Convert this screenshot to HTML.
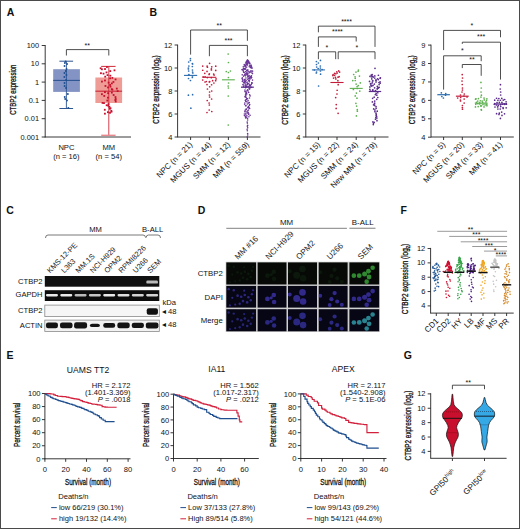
<!DOCTYPE html>
<html><head><meta charset="utf-8"><title>Figure</title>
<style>
html,body{margin:0;padding:0;background:#fff;}
body{width:520px;height:529px;overflow:hidden;}
svg{display:block;}
svg text{font-family:"Liberation Sans", sans-serif;}
svg text.h{stroke:#111;stroke-width:0.3px;}
</style></head><body>
<svg width="520" height="529" viewBox="0 0 520 529">
<defs><filter id="bl" x="-50%" y="-50%" width="200%" height="200%"><feGaussianBlur stdDeviation="0.45"/></filter></defs>
<rect x="0" y="0" width="520" height="529" fill="#fff"/>
<text x="6.80" y="16.00" font-size="10.5" text-anchor="start" fill="#111" font-weight="bold" >A</text>
<line x1="45.20" y1="45.00" x2="45.20" y2="137.40" stroke="#222" stroke-width="0.9" />
<line x1="44.80" y1="137.00" x2="131.00" y2="137.00" stroke="#222" stroke-width="0.9" />
<line x1="41.70" y1="45.50" x2="45.20" y2="45.50" stroke="#222" stroke-width="0.9" />
<text x="39.00" y="48.00" font-size="7.4" text-anchor="end" fill="#111" font-weight="normal" >100</text>
<line x1="41.70" y1="63.80" x2="45.20" y2="63.80" stroke="#222" stroke-width="0.9" />
<text x="39.00" y="66.30" font-size="7.4" text-anchor="end" fill="#111" font-weight="normal" >10</text>
<line x1="41.70" y1="82.10" x2="45.20" y2="82.10" stroke="#222" stroke-width="0.9" />
<text x="39.00" y="84.60" font-size="7.4" text-anchor="end" fill="#111" font-weight="normal" >1</text>
<line x1="41.70" y1="100.40" x2="45.20" y2="100.40" stroke="#222" stroke-width="0.9" />
<text x="39.00" y="102.90" font-size="7.4" text-anchor="end" fill="#111" font-weight="normal" >0.1</text>
<line x1="41.70" y1="118.70" x2="45.20" y2="118.70" stroke="#222" stroke-width="0.9" />
<text x="39.00" y="121.20" font-size="7.4" text-anchor="end" fill="#111" font-weight="normal" >0.01</text>
<line x1="41.70" y1="137.00" x2="45.20" y2="137.00" stroke="#222" stroke-width="0.9" />
<text x="39.00" y="139.50" font-size="7.4" text-anchor="end" fill="#111" font-weight="normal" >0.001</text>
<text class="h" transform="translate(15.50,89.70) rotate(-90) scale(0.6717,1)" font-size="9.0" text-anchor="middle" fill="#111">CTBP2 expression</text>
<rect x="53.20" y="69.20" width="26.70" height="22.70" fill="#8393c3" />
<line x1="66.40" y1="61.20" x2="66.40" y2="108.50" stroke="#2c5592" stroke-width="0.9" />
<line x1="59.40" y1="61.20" x2="73.10" y2="61.20" stroke="#2c5592" stroke-width="1.0" />
<line x1="59.40" y1="108.50" x2="73.10" y2="108.50" stroke="#2c5592" stroke-width="1.0" />
<line x1="53.20" y1="80.40" x2="79.90" y2="80.40" stroke="#2c5592" stroke-width="1.1" />
<circle cx="65.62" cy="61.50" r="0.95" fill="#1d4f8f"/>
<circle cx="64.86" cy="63.00" r="0.95" fill="#1d4f8f"/>
<circle cx="67.06" cy="64.00" r="0.95" fill="#1d4f8f"/>
<circle cx="64.52" cy="66.00" r="0.95" fill="#1d4f8f"/>
<circle cx="66.56" cy="69.00" r="0.95" fill="#1d4f8f"/>
<circle cx="65.81" cy="71.00" r="0.95" fill="#1d4f8f"/>
<circle cx="64.46" cy="73.00" r="0.95" fill="#1d4f8f"/>
<circle cx="66.43" cy="75.00" r="0.95" fill="#1d4f8f"/>
<circle cx="64.36" cy="77.00" r="0.95" fill="#1d4f8f"/>
<circle cx="66.11" cy="80.00" r="0.95" fill="#1d4f8f"/>
<circle cx="64.51" cy="83.00" r="0.95" fill="#1d4f8f"/>
<circle cx="64.60" cy="86.00" r="0.95" fill="#1d4f8f"/>
<circle cx="66.07" cy="88.00" r="0.95" fill="#1d4f8f"/>
<circle cx="67.84" cy="94.00" r="0.95" fill="#1d4f8f"/>
<circle cx="64.74" cy="97.00" r="0.95" fill="#1d4f8f"/>
<circle cx="65.18" cy="99.00" r="0.95" fill="#1d4f8f"/>
<circle cx="66.96" cy="100.50" r="0.95" fill="#1d4f8f"/>
<circle cx="68.37" cy="108.00" r="0.95" fill="#1d4f8f"/>
<rect x="95.40" y="77.50" width="26.70" height="25.50" fill="#ef9c96" />
<line x1="108.80" y1="66.40" x2="108.80" y2="135.50" stroke="#cf2a3a" stroke-width="0.9" />
<line x1="101.20" y1="66.40" x2="115.60" y2="66.40" stroke="#cf2a3a" stroke-width="1.0" />
<line x1="101.20" y1="135.30" x2="115.60" y2="135.30" stroke="#e78a8f" stroke-width="1.4" />
<line x1="95.40" y1="91.20" x2="122.10" y2="91.20" stroke="#c9283a" stroke-width="1.1" />
<rect x="106.04" y="66.11" width="1.8" height="1.8" fill="#c8102e"/>
<rect x="99.74" y="67.36" width="1.8" height="1.8" fill="#c8102e"/>
<rect x="104.11" y="68.14" width="1.8" height="1.8" fill="#c8102e"/>
<rect x="101.02" y="68.39" width="1.8" height="1.8" fill="#c8102e"/>
<rect x="113.59" y="69.43" width="1.8" height="1.8" fill="#c8102e"/>
<rect x="109.37" y="70.21" width="1.8" height="1.8" fill="#c8102e"/>
<rect x="105.60" y="71.50" width="1.8" height="1.8" fill="#c8102e"/>
<rect x="100.03" y="72.31" width="1.8" height="1.8" fill="#c8102e"/>
<rect x="102.61" y="72.76" width="1.8" height="1.8" fill="#c8102e"/>
<rect x="106.60" y="74.20" width="1.8" height="1.8" fill="#c8102e"/>
<rect x="109.44" y="74.77" width="1.8" height="1.8" fill="#c8102e"/>
<rect x="104.30" y="75.78" width="1.8" height="1.8" fill="#c8102e"/>
<rect x="111.48" y="76.97" width="1.8" height="1.8" fill="#c8102e"/>
<rect x="109.24" y="77.37" width="1.8" height="1.8" fill="#c8102e"/>
<rect x="114.65" y="78.51" width="1.8" height="1.8" fill="#c8102e"/>
<rect x="104.08" y="79.58" width="1.8" height="1.8" fill="#c8102e"/>
<rect x="101.03" y="80.69" width="1.8" height="1.8" fill="#c8102e"/>
<rect x="112.53" y="81.08" width="1.8" height="1.8" fill="#c8102e"/>
<rect x="107.70" y="81.74" width="1.8" height="1.8" fill="#c8102e"/>
<rect x="110.93" y="82.52" width="1.8" height="1.8" fill="#c8102e"/>
<rect x="109.21" y="84.06" width="1.8" height="1.8" fill="#c8102e"/>
<rect x="104.55" y="85.04" width="1.8" height="1.8" fill="#c8102e"/>
<rect x="109.60" y="85.77" width="1.8" height="1.8" fill="#c8102e"/>
<rect x="107.11" y="86.56" width="1.8" height="1.8" fill="#c8102e"/>
<rect x="115.90" y="87.68" width="1.8" height="1.8" fill="#c8102e"/>
<rect x="110.85" y="88.24" width="1.8" height="1.8" fill="#c8102e"/>
<rect x="111.53" y="88.77" width="1.8" height="1.8" fill="#c8102e"/>
<rect x="116.78" y="90.18" width="1.8" height="1.8" fill="#c8102e"/>
<rect x="104.02" y="91.22" width="1.8" height="1.8" fill="#c8102e"/>
<rect x="110.94" y="91.72" width="1.8" height="1.8" fill="#c8102e"/>
<rect x="107.21" y="92.29" width="1.8" height="1.8" fill="#c8102e"/>
<rect x="101.01" y="93.30" width="1.8" height="1.8" fill="#c8102e"/>
<rect x="112.73" y="94.10" width="1.8" height="1.8" fill="#c8102e"/>
<rect x="103.36" y="95.05" width="1.8" height="1.8" fill="#c8102e"/>
<rect x="114.59" y="96.17" width="1.8" height="1.8" fill="#c8102e"/>
<rect x="106.99" y="96.78" width="1.8" height="1.8" fill="#c8102e"/>
<rect x="114.80" y="98.09" width="1.8" height="1.8" fill="#c8102e"/>
<rect x="114.45" y="99.22" width="1.8" height="1.8" fill="#c8102e"/>
<rect x="106.38" y="99.63" width="1.8" height="1.8" fill="#c8102e"/>
<rect x="114.82" y="100.59" width="1.8" height="1.8" fill="#c8102e"/>
<rect x="101.62" y="102.01" width="1.8" height="1.8" fill="#c8102e"/>
<rect x="103.08" y="102.20" width="1.8" height="1.8" fill="#c8102e"/>
<rect x="107.63" y="103.14" width="1.8" height="1.8" fill="#c8102e"/>
<rect x="105.76" y="104.35" width="1.8" height="1.8" fill="#c8102e"/>
<rect x="107.17" y="104.71" width="1.8" height="1.8" fill="#c8102e"/>
<rect x="108.50" y="105.93" width="1.8" height="1.8" fill="#c8102e"/>
<rect x="109.61" y="107.34" width="1.8" height="1.8" fill="#c8102e"/>
<rect x="108.96" y="107.84" width="1.8" height="1.8" fill="#c8102e"/>
<rect x="103.89" y="108.87" width="1.8" height="1.8" fill="#c8102e"/>
<rect x="110.42" y="109.96" width="1.8" height="1.8" fill="#c8102e"/>
<rect x="110.58" y="110.82" width="1.8" height="1.8" fill="#c8102e"/>
<rect x="106.99" y="111.28" width="1.8" height="1.8" fill="#c8102e"/>
<rect x="109.11" y="111.91" width="1.8" height="1.8" fill="#c8102e"/>
<rect x="104.01" y="112.77" width="1.8" height="1.8" fill="#c8102e"/>
<path d="M66.4,55.5 V49.6 H108.8 V55.5" stroke="#222" stroke-width="0.8" fill="none" />
<text x="87.20" y="47.94" font-size="7.0" text-anchor="middle" fill="#111" font-weight="normal" >**</text>
<text x="66.40" y="149.50" font-size="7.6" text-anchor="middle" fill="#111" font-weight="normal" >NPC</text>
<text x="66.40" y="159.20" font-size="7.6" text-anchor="middle" fill="#111" font-weight="normal" >(n = 16)</text>
<text x="108.80" y="149.50" font-size="7.6" text-anchor="middle" fill="#111" font-weight="normal" >MM</text>
<text x="108.80" y="159.20" font-size="7.6" text-anchor="middle" fill="#111" font-weight="normal" >(n = 54)</text>
<text x="149.60" y="16.00" font-size="10.5" text-anchor="start" fill="#111" font-weight="bold" >B</text>
<line x1="177.60" y1="44.60" x2="177.60" y2="137.40" stroke="#222" stroke-width="0.9" />
<line x1="174.60" y1="45.00" x2="177.60" y2="45.00" stroke="#222" stroke-width="0.9" />
<text x="172.30" y="47.50" font-size="7.5" text-anchor="end" fill="#111" font-weight="normal" >12</text>
<line x1="174.60" y1="68.00" x2="177.60" y2="68.00" stroke="#222" stroke-width="0.9" />
<text x="172.30" y="70.50" font-size="7.5" text-anchor="end" fill="#111" font-weight="normal" >10</text>
<line x1="174.60" y1="91.00" x2="177.60" y2="91.00" stroke="#222" stroke-width="0.9" />
<text x="172.30" y="93.50" font-size="7.5" text-anchor="end" fill="#111" font-weight="normal" >8</text>
<line x1="174.60" y1="114.00" x2="177.60" y2="114.00" stroke="#222" stroke-width="0.9" />
<text x="172.30" y="116.50" font-size="7.5" text-anchor="end" fill="#111" font-weight="normal" >6</text>
<line x1="174.60" y1="137.00" x2="177.60" y2="137.00" stroke="#222" stroke-width="0.9" />
<text x="172.30" y="139.50" font-size="7.5" text-anchor="end" fill="#111" font-weight="normal" >4</text>
<line x1="177.60" y1="137.00" x2="260.50" y2="137.00" stroke="#222" stroke-width="0.9" />
<line x1="190.60" y1="137.00" x2="190.60" y2="140.00" stroke="#222" stroke-width="0.9" />
<line x1="209.40" y1="137.00" x2="209.40" y2="140.00" stroke="#222" stroke-width="0.9" />
<line x1="228.40" y1="137.00" x2="228.40" y2="140.00" stroke="#222" stroke-width="0.9" />
<line x1="247.40" y1="137.00" x2="247.40" y2="140.00" stroke="#222" stroke-width="0.9" />
<text class="h" transform="translate(158.80,89.50) rotate(-90) scale(0.7092,1)" font-size="8.8" text-anchor="middle" fill="#111">CTBP2 expression (log<tspan font-size="5.72" dy="1.6">2</tspan><tspan dy="-1.6">)</tspan></text>
<circle cx="190.43" cy="58.70" r="0.85" fill="#2b6cb0"/>
<circle cx="190.40" cy="60.50" r="0.85" fill="#2b6cb0"/>
<circle cx="188.66" cy="62.00" r="0.85" fill="#2b6cb0"/>
<circle cx="192.36" cy="63.50" r="0.85" fill="#2b6cb0"/>
<circle cx="192.62" cy="64.00" r="0.85" fill="#2b6cb0"/>
<circle cx="188.87" cy="66.00" r="0.85" fill="#2b6cb0"/>
<circle cx="192.34" cy="66.50" r="0.85" fill="#2b6cb0"/>
<circle cx="188.42" cy="68.00" r="0.85" fill="#2b6cb0"/>
<circle cx="188.39" cy="69.00" r="0.85" fill="#2b6cb0"/>
<circle cx="192.45" cy="70.00" r="0.85" fill="#2b6cb0"/>
<circle cx="188.66" cy="71.00" r="0.85" fill="#2b6cb0"/>
<circle cx="192.58" cy="72.00" r="0.85" fill="#2b6cb0"/>
<circle cx="192.81" cy="73.00" r="0.85" fill="#2b6cb0"/>
<circle cx="188.90" cy="74.50" r="0.85" fill="#2b6cb0"/>
<circle cx="188.59" cy="75.00" r="0.85" fill="#2b6cb0"/>
<circle cx="192.49" cy="76.00" r="0.85" fill="#2b6cb0"/>
<circle cx="192.36" cy="77.50" r="0.85" fill="#2b6cb0"/>
<circle cx="188.51" cy="78.50" r="0.85" fill="#2b6cb0"/>
<circle cx="190.46" cy="80.50" r="0.85" fill="#2b6cb0"/>
<circle cx="192.61" cy="94.70" r="0.85" fill="#2b6cb0"/>
<circle cx="188.42" cy="95.20" r="0.85" fill="#2b6cb0"/>
<circle cx="190.87" cy="108.20" r="0.85" fill="#2b6cb0"/>
<line x1="184.00" y1="75.40" x2="197.20" y2="75.40" stroke="#2b6cb0" stroke-width="1.1" />
<circle cx="215.73" cy="70.41" r="0.85" fill="#c31d3b"/>
<circle cx="202.74" cy="70.25" r="0.85" fill="#c31d3b"/>
<circle cx="207.05" cy="71.42" r="0.85" fill="#c31d3b"/>
<circle cx="211.39" cy="69.95" r="0.85" fill="#c31d3b"/>
<circle cx="216.08" cy="78.94" r="0.85" fill="#c31d3b"/>
<circle cx="211.32" cy="77.72" r="0.85" fill="#c31d3b"/>
<circle cx="207.33" cy="77.55" r="0.85" fill="#c31d3b"/>
<circle cx="203.15" cy="76.94" r="0.85" fill="#c31d3b"/>
<circle cx="211.59" cy="84.77" r="0.85" fill="#c31d3b"/>
<circle cx="207.01" cy="84.61" r="0.85" fill="#c31d3b"/>
<circle cx="212.63" cy="80.71" r="0.85" fill="#c31d3b"/>
<circle cx="206.30" cy="81.50" r="0.85" fill="#c31d3b"/>
<circle cx="215.65" cy="80.72" r="0.85" fill="#c31d3b"/>
<circle cx="202.70" cy="80.01" r="0.85" fill="#c31d3b"/>
<circle cx="209.70" cy="81.54" r="0.85" fill="#c31d3b"/>
<circle cx="211.39" cy="68.75" r="0.85" fill="#c31d3b"/>
<circle cx="207.44" cy="67.22" r="0.85" fill="#c31d3b"/>
<circle cx="209.58" cy="63.37" r="0.85" fill="#c31d3b"/>
<circle cx="213.89" cy="82.98" r="0.85" fill="#c31d3b"/>
<circle cx="209.31" cy="81.89" r="0.85" fill="#c31d3b"/>
<circle cx="205.03" cy="82.02" r="0.85" fill="#c31d3b"/>
<circle cx="209.11" cy="74.48" r="0.85" fill="#c31d3b"/>
<circle cx="214.08" cy="75.08" r="0.85" fill="#c31d3b"/>
<circle cx="205.09" cy="76.73" r="0.85" fill="#c31d3b"/>
<circle cx="211.76" cy="66.79" r="0.85" fill="#c31d3b"/>
<circle cx="202.73" cy="66.07" r="0.85" fill="#c31d3b"/>
<circle cx="215.75" cy="66.20" r="0.85" fill="#c31d3b"/>
<circle cx="207.11" cy="66.03" r="0.85" fill="#c31d3b"/>
<circle cx="213.66" cy="74.07" r="0.85" fill="#c31d3b"/>
<circle cx="209.35" cy="73.81" r="0.85" fill="#c31d3b"/>
<circle cx="204.78" cy="73.28" r="0.85" fill="#c31d3b"/>
<circle cx="209.65" cy="86.73" r="0.85" fill="#c31d3b"/>
<circle cx="207.44" cy="89.00" r="0.85" fill="#c31d3b"/>
<circle cx="211.70" cy="91.00" r="0.85" fill="#c31d3b"/>
<circle cx="209.59" cy="92.00" r="0.85" fill="#c31d3b"/>
<circle cx="209.41" cy="95.00" r="0.85" fill="#c31d3b"/>
<circle cx="209.60" cy="97.00" r="0.85" fill="#c31d3b"/>
<circle cx="211.62" cy="99.00" r="0.85" fill="#c31d3b"/>
<circle cx="207.21" cy="100.50" r="0.85" fill="#c31d3b"/>
<circle cx="209.11" cy="103.00" r="0.85" fill="#c31d3b"/>
<circle cx="209.36" cy="105.00" r="0.85" fill="#c31d3b"/>
<circle cx="209.21" cy="110.00" r="0.85" fill="#c31d3b"/>
<circle cx="211.77" cy="111.50" r="0.85" fill="#c31d3b"/>
<circle cx="206.99" cy="112.50" r="0.85" fill="#c31d3b"/>
<line x1="202.50" y1="77.30" x2="216.30" y2="77.30" stroke="#c31d3b" stroke-width="1.1" />
<circle cx="228.18" cy="54.00" r="0.85" fill="#5db04f"/>
<circle cx="228.47" cy="62.50" r="0.85" fill="#5db04f"/>
<circle cx="230.43" cy="71.00" r="0.85" fill="#5db04f"/>
<circle cx="226.30" cy="71.50" r="0.85" fill="#5db04f"/>
<circle cx="228.41" cy="72.50" r="0.85" fill="#5db04f"/>
<circle cx="228.43" cy="77.50" r="0.85" fill="#5db04f"/>
<circle cx="228.57" cy="83.00" r="0.85" fill="#5db04f"/>
<circle cx="228.16" cy="86.00" r="0.85" fill="#5db04f"/>
<circle cx="228.44" cy="88.00" r="0.85" fill="#5db04f"/>
<circle cx="228.25" cy="96.00" r="0.85" fill="#5db04f"/>
<circle cx="228.27" cy="125.00" r="0.85" fill="#5db04f"/>
<line x1="222.00" y1="79.80" x2="234.80" y2="79.80" stroke="#5db04f" stroke-width="1.1" />
<circle cx="247.41" cy="60.14" r="0.8" fill="#6a3598"/>
<circle cx="247.75" cy="60.29" r="0.8" fill="#6a3598"/>
<circle cx="247.31" cy="60.53" r="0.8" fill="#6a3598"/>
<circle cx="247.41" cy="60.66" r="0.8" fill="#6a3598"/>
<circle cx="247.79" cy="60.83" r="0.8" fill="#6a3598"/>
<circle cx="247.47" cy="61.00" r="0.8" fill="#6a3598"/>
<circle cx="248.48" cy="61.19" r="0.8" fill="#6a3598"/>
<circle cx="248.43" cy="61.41" r="0.8" fill="#6a3598"/>
<circle cx="246.68" cy="61.64" r="0.8" fill="#6a3598"/>
<circle cx="248.79" cy="61.75" r="0.8" fill="#6a3598"/>
<circle cx="246.15" cy="61.99" r="0.8" fill="#6a3598"/>
<circle cx="247.20" cy="62.04" r="0.8" fill="#6a3598"/>
<circle cx="246.44" cy="62.21" r="0.8" fill="#6a3598"/>
<circle cx="248.07" cy="62.40" r="0.8" fill="#6a3598"/>
<circle cx="249.12" cy="62.71" r="0.8" fill="#6a3598"/>
<circle cx="248.35" cy="62.78" r="0.8" fill="#6a3598"/>
<circle cx="245.71" cy="63.05" r="0.8" fill="#6a3598"/>
<circle cx="249.75" cy="63.28" r="0.8" fill="#6a3598"/>
<circle cx="249.70" cy="63.34" r="0.8" fill="#6a3598"/>
<circle cx="247.33" cy="63.56" r="0.8" fill="#6a3598"/>
<circle cx="249.30" cy="63.85" r="0.8" fill="#6a3598"/>
<circle cx="247.01" cy="63.88" r="0.8" fill="#6a3598"/>
<circle cx="246.43" cy="64.13" r="0.8" fill="#6a3598"/>
<circle cx="246.27" cy="64.25" r="0.8" fill="#6a3598"/>
<circle cx="244.25" cy="64.53" r="0.8" fill="#6a3598"/>
<circle cx="247.00" cy="64.68" r="0.8" fill="#6a3598"/>
<circle cx="246.25" cy="64.77" r="0.8" fill="#6a3598"/>
<circle cx="247.49" cy="65.06" r="0.8" fill="#6a3598"/>
<circle cx="250.94" cy="65.15" r="0.8" fill="#6a3598"/>
<circle cx="251.03" cy="65.46" r="0.8" fill="#6a3598"/>
<circle cx="245.58" cy="65.52" r="0.8" fill="#6a3598"/>
<circle cx="249.62" cy="65.69" r="0.8" fill="#6a3598"/>
<circle cx="244.34" cy="65.92" r="0.8" fill="#6a3598"/>
<circle cx="250.90" cy="66.13" r="0.8" fill="#6a3598"/>
<circle cx="245.27" cy="66.38" r="0.8" fill="#6a3598"/>
<circle cx="251.13" cy="66.44" r="0.8" fill="#6a3598"/>
<circle cx="249.25" cy="66.70" r="0.8" fill="#6a3598"/>
<circle cx="243.27" cy="66.80" r="0.8" fill="#6a3598"/>
<circle cx="246.68" cy="67.09" r="0.8" fill="#6a3598"/>
<circle cx="251.68" cy="67.16" r="0.8" fill="#6a3598"/>
<circle cx="250.45" cy="67.45" r="0.8" fill="#6a3598"/>
<circle cx="251.04" cy="67.53" r="0.8" fill="#6a3598"/>
<circle cx="251.19" cy="67.71" r="0.8" fill="#6a3598"/>
<circle cx="245.67" cy="67.97" r="0.8" fill="#6a3598"/>
<circle cx="252.01" cy="68.17" r="0.8" fill="#6a3598"/>
<circle cx="243.40" cy="68.30" r="0.8" fill="#6a3598"/>
<circle cx="244.58" cy="68.53" r="0.8" fill="#6a3598"/>
<circle cx="243.74" cy="68.64" r="0.8" fill="#6a3598"/>
<circle cx="244.18" cy="68.81" r="0.8" fill="#6a3598"/>
<circle cx="245.29" cy="69.04" r="0.8" fill="#6a3598"/>
<circle cx="245.13" cy="69.31" r="0.8" fill="#6a3598"/>
<circle cx="243.92" cy="69.44" r="0.8" fill="#6a3598"/>
<circle cx="242.20" cy="69.60" r="0.8" fill="#6a3598"/>
<circle cx="242.17" cy="69.76" r="0.8" fill="#6a3598"/>
<circle cx="247.95" cy="70.03" r="0.8" fill="#6a3598"/>
<circle cx="247.13" cy="70.12" r="0.8" fill="#6a3598"/>
<circle cx="243.15" cy="70.44" r="0.8" fill="#6a3598"/>
<circle cx="246.67" cy="70.60" r="0.8" fill="#6a3598"/>
<circle cx="251.01" cy="70.72" r="0.8" fill="#6a3598"/>
<circle cx="247.47" cy="70.89" r="0.8" fill="#6a3598"/>
<circle cx="252.61" cy="71.13" r="0.8" fill="#6a3598"/>
<circle cx="250.99" cy="71.25" r="0.8" fill="#6a3598"/>
<circle cx="248.87" cy="71.50" r="0.8" fill="#6a3598"/>
<circle cx="245.75" cy="71.62" r="0.8" fill="#6a3598"/>
<circle cx="243.40" cy="71.74" r="0.8" fill="#6a3598"/>
<circle cx="250.00" cy="71.93" r="0.8" fill="#6a3598"/>
<circle cx="243.76" cy="72.15" r="0.8" fill="#6a3598"/>
<circle cx="251.09" cy="72.30" r="0.8" fill="#6a3598"/>
<circle cx="249.24" cy="72.63" r="0.8" fill="#6a3598"/>
<circle cx="244.62" cy="72.70" r="0.8" fill="#6a3598"/>
<circle cx="246.96" cy="72.89" r="0.8" fill="#6a3598"/>
<circle cx="246.81" cy="73.05" r="0.8" fill="#6a3598"/>
<circle cx="252.39" cy="73.25" r="0.8" fill="#6a3598"/>
<circle cx="247.91" cy="73.56" r="0.8" fill="#6a3598"/>
<circle cx="252.43" cy="73.61" r="0.8" fill="#6a3598"/>
<circle cx="245.85" cy="73.81" r="0.8" fill="#6a3598"/>
<circle cx="246.12" cy="73.93" r="0.8" fill="#6a3598"/>
<circle cx="247.43" cy="74.20" r="0.8" fill="#6a3598"/>
<circle cx="247.45" cy="74.34" r="0.8" fill="#6a3598"/>
<circle cx="244.85" cy="74.48" r="0.8" fill="#6a3598"/>
<circle cx="246.31" cy="74.68" r="0.8" fill="#6a3598"/>
<circle cx="242.24" cy="74.86" r="0.8" fill="#6a3598"/>
<circle cx="244.51" cy="75.09" r="0.8" fill="#6a3598"/>
<circle cx="247.72" cy="75.32" r="0.8" fill="#6a3598"/>
<circle cx="249.10" cy="75.54" r="0.8" fill="#6a3598"/>
<circle cx="251.49" cy="75.71" r="0.8" fill="#6a3598"/>
<circle cx="245.52" cy="75.84" r="0.8" fill="#6a3598"/>
<circle cx="243.61" cy="76.13" r="0.8" fill="#6a3598"/>
<circle cx="248.95" cy="76.27" r="0.8" fill="#6a3598"/>
<circle cx="251.02" cy="76.32" r="0.8" fill="#6a3598"/>
<circle cx="248.78" cy="76.66" r="0.8" fill="#6a3598"/>
<circle cx="250.77" cy="76.82" r="0.8" fill="#6a3598"/>
<circle cx="247.66" cy="76.89" r="0.8" fill="#6a3598"/>
<circle cx="251.02" cy="77.14" r="0.8" fill="#6a3598"/>
<circle cx="250.93" cy="77.38" r="0.8" fill="#6a3598"/>
<circle cx="251.64" cy="77.52" r="0.8" fill="#6a3598"/>
<circle cx="249.49" cy="77.73" r="0.8" fill="#6a3598"/>
<circle cx="242.34" cy="77.83" r="0.8" fill="#6a3598"/>
<circle cx="245.90" cy="77.99" r="0.8" fill="#6a3598"/>
<circle cx="251.03" cy="78.17" r="0.8" fill="#6a3598"/>
<circle cx="248.78" cy="78.44" r="0.8" fill="#6a3598"/>
<circle cx="249.35" cy="78.63" r="0.8" fill="#6a3598"/>
<circle cx="242.04" cy="78.79" r="0.8" fill="#6a3598"/>
<circle cx="250.08" cy="79.03" r="0.8" fill="#6a3598"/>
<circle cx="247.78" cy="79.16" r="0.8" fill="#6a3598"/>
<circle cx="242.71" cy="79.37" r="0.8" fill="#6a3598"/>
<circle cx="244.72" cy="79.57" r="0.8" fill="#6a3598"/>
<circle cx="244.87" cy="79.63" r="0.8" fill="#6a3598"/>
<circle cx="244.22" cy="79.93" r="0.8" fill="#6a3598"/>
<circle cx="252.52" cy="80.12" r="0.8" fill="#6a3598"/>
<circle cx="246.14" cy="80.26" r="0.8" fill="#6a3598"/>
<circle cx="249.36" cy="80.44" r="0.8" fill="#6a3598"/>
<circle cx="248.64" cy="80.67" r="0.8" fill="#6a3598"/>
<circle cx="242.94" cy="80.83" r="0.8" fill="#6a3598"/>
<circle cx="244.81" cy="80.93" r="0.8" fill="#6a3598"/>
<circle cx="245.36" cy="81.22" r="0.8" fill="#6a3598"/>
<circle cx="242.33" cy="81.37" r="0.8" fill="#6a3598"/>
<circle cx="245.00" cy="81.46" r="0.8" fill="#6a3598"/>
<circle cx="249.38" cy="81.76" r="0.8" fill="#6a3598"/>
<circle cx="245.26" cy="81.94" r="0.8" fill="#6a3598"/>
<circle cx="247.04" cy="82.09" r="0.8" fill="#6a3598"/>
<circle cx="243.53" cy="82.27" r="0.8" fill="#6a3598"/>
<circle cx="244.37" cy="82.53" r="0.8" fill="#6a3598"/>
<circle cx="251.77" cy="82.73" r="0.8" fill="#6a3598"/>
<circle cx="246.99" cy="82.74" r="0.8" fill="#6a3598"/>
<circle cx="252.05" cy="83.07" r="0.8" fill="#6a3598"/>
<circle cx="245.11" cy="83.18" r="0.8" fill="#6a3598"/>
<circle cx="251.79" cy="83.32" r="0.8" fill="#6a3598"/>
<circle cx="248.20" cy="83.51" r="0.8" fill="#6a3598"/>
<circle cx="247.63" cy="83.68" r="0.8" fill="#6a3598"/>
<circle cx="243.85" cy="84.01" r="0.8" fill="#6a3598"/>
<circle cx="247.48" cy="84.17" r="0.8" fill="#6a3598"/>
<circle cx="249.34" cy="84.36" r="0.8" fill="#6a3598"/>
<circle cx="251.19" cy="84.43" r="0.8" fill="#6a3598"/>
<circle cx="242.90" cy="84.66" r="0.8" fill="#6a3598"/>
<circle cx="247.32" cy="84.75" r="0.8" fill="#6a3598"/>
<circle cx="245.54" cy="85.02" r="0.8" fill="#6a3598"/>
<circle cx="245.94" cy="85.14" r="0.8" fill="#6a3598"/>
<circle cx="250.55" cy="85.36" r="0.8" fill="#6a3598"/>
<circle cx="249.72" cy="85.48" r="0.8" fill="#6a3598"/>
<circle cx="243.93" cy="85.82" r="0.8" fill="#6a3598"/>
<circle cx="249.33" cy="86.02" r="0.8" fill="#6a3598"/>
<circle cx="245.50" cy="86.20" r="0.8" fill="#6a3598"/>
<circle cx="246.44" cy="86.28" r="0.8" fill="#6a3598"/>
<circle cx="248.20" cy="86.58" r="0.8" fill="#6a3598"/>
<circle cx="246.76" cy="86.65" r="0.8" fill="#6a3598"/>
<circle cx="243.40" cy="86.82" r="0.8" fill="#6a3598"/>
<circle cx="250.35" cy="86.97" r="0.8" fill="#6a3598"/>
<circle cx="251.21" cy="87.19" r="0.8" fill="#6a3598"/>
<circle cx="245.36" cy="87.36" r="0.8" fill="#6a3598"/>
<circle cx="245.73" cy="87.73" r="0.8" fill="#6a3598"/>
<circle cx="249.86" cy="88.11" r="0.8" fill="#6a3598"/>
<circle cx="249.08" cy="88.78" r="0.8" fill="#6a3598"/>
<circle cx="249.63" cy="89.12" r="0.8" fill="#6a3598"/>
<circle cx="247.67" cy="89.70" r="0.8" fill="#6a3598"/>
<circle cx="244.97" cy="90.05" r="0.8" fill="#6a3598"/>
<circle cx="247.13" cy="90.50" r="0.8" fill="#6a3598"/>
<circle cx="248.18" cy="90.95" r="0.8" fill="#6a3598"/>
<circle cx="244.96" cy="91.19" r="0.8" fill="#6a3598"/>
<circle cx="245.39" cy="91.92" r="0.8" fill="#6a3598"/>
<circle cx="246.56" cy="92.16" r="0.8" fill="#6a3598"/>
<circle cx="248.69" cy="92.53" r="0.8" fill="#6a3598"/>
<circle cx="246.10" cy="93.28" r="0.8" fill="#6a3598"/>
<circle cx="246.32" cy="93.58" r="0.8" fill="#6a3598"/>
<circle cx="246.83" cy="93.98" r="0.8" fill="#6a3598"/>
<circle cx="245.57" cy="94.26" r="0.8" fill="#6a3598"/>
<circle cx="249.59" cy="94.72" r="0.8" fill="#6a3598"/>
<circle cx="245.89" cy="95.29" r="0.8" fill="#6a3598"/>
<circle cx="250.08" cy="95.92" r="0.8" fill="#6a3598"/>
<circle cx="245.45" cy="96.16" r="0.8" fill="#6a3598"/>
<circle cx="245.19" cy="96.49" r="0.8" fill="#6a3598"/>
<circle cx="245.19" cy="97.01" r="0.8" fill="#6a3598"/>
<circle cx="246.10" cy="97.41" r="0.8" fill="#6a3598"/>
<circle cx="249.49" cy="98.00" r="0.8" fill="#6a3598"/>
<circle cx="246.93" cy="98.52" r="0.8" fill="#6a3598"/>
<circle cx="247.53" cy="98.82" r="0.8" fill="#6a3598"/>
<circle cx="246.53" cy="99.25" r="0.8" fill="#6a3598"/>
<circle cx="246.20" cy="99.55" r="0.8" fill="#6a3598"/>
<circle cx="245.38" cy="100.40" r="0.8" fill="#6a3598"/>
<circle cx="248.10" cy="100.64" r="0.8" fill="#6a3598"/>
<circle cx="245.87" cy="101.25" r="0.8" fill="#6a3598"/>
<circle cx="246.04" cy="101.43" r="0.8" fill="#6a3598"/>
<circle cx="247.11" cy="101.93" r="0.8" fill="#6a3598"/>
<circle cx="249.28" cy="102.62" r="0.8" fill="#6a3598"/>
<circle cx="244.82" cy="103.03" r="0.8" fill="#6a3598"/>
<circle cx="248.53" cy="103.11" r="0.8" fill="#6a3598"/>
<circle cx="247.26" cy="103.94" r="0.8" fill="#6a3598"/>
<circle cx="244.70" cy="104.24" r="0.8" fill="#6a3598"/>
<circle cx="249.70" cy="104.60" r="0.8" fill="#6a3598"/>
<circle cx="249.32" cy="105.24" r="0.8" fill="#6a3598"/>
<circle cx="246.04" cy="105.75" r="0.8" fill="#6a3598"/>
<circle cx="245.53" cy="105.81" r="0.8" fill="#6a3598"/>
<circle cx="248.38" cy="106.44" r="0.8" fill="#6a3598"/>
<circle cx="248.60" cy="107.07" r="0.8" fill="#6a3598"/>
<circle cx="248.83" cy="107.39" r="0.8" fill="#6a3598"/>
<circle cx="247.68" cy="107.75" r="0.8" fill="#6a3598"/>
<circle cx="248.92" cy="108.01" r="0.8" fill="#6a3598"/>
<circle cx="249.67" cy="108.54" r="0.8" fill="#6a3598"/>
<circle cx="246.34" cy="109.17" r="0.8" fill="#6a3598"/>
<circle cx="246.06" cy="109.38" r="0.8" fill="#6a3598"/>
<circle cx="248.47" cy="110.06" r="0.8" fill="#6a3598"/>
<circle cx="245.08" cy="110.27" r="0.8" fill="#6a3598"/>
<circle cx="247.85" cy="110.90" r="0.8" fill="#6a3598"/>
<circle cx="245.91" cy="111.28" r="0.8" fill="#6a3598"/>
<circle cx="244.76" cy="111.82" r="0.8" fill="#6a3598"/>
<circle cx="247.15" cy="112.11" r="0.8" fill="#6a3598"/>
<circle cx="248.33" cy="112.73" r="0.8" fill="#6a3598"/>
<circle cx="247.24" cy="113.08" r="0.8" fill="#6a3598"/>
<circle cx="245.78" cy="113.21" r="0.8" fill="#6a3598"/>
<circle cx="248.71" cy="113.86" r="0.8" fill="#6a3598"/>
<circle cx="244.34" cy="113.99" r="0.8" fill="#6a3598"/>
<circle cx="248.52" cy="114.44" r="0.8" fill="#6a3598"/>
<circle cx="245.85" cy="114.78" r="0.8" fill="#6a3598"/>
<circle cx="250.12" cy="115.25" r="0.8" fill="#6a3598"/>
<circle cx="244.42" cy="115.46" r="0.8" fill="#6a3598"/>
<circle cx="246.89" cy="115.88" r="0.8" fill="#6a3598"/>
<circle cx="245.47" cy="116.38" r="0.8" fill="#6a3598"/>
<circle cx="248.93" cy="116.80" r="0.8" fill="#6a3598"/>
<circle cx="245.51" cy="117.06" r="0.8" fill="#6a3598"/>
<circle cx="246.19" cy="117.61" r="0.8" fill="#6a3598"/>
<circle cx="245.68" cy="117.93" r="0.8" fill="#6a3598"/>
<circle cx="247.56" cy="118.35" r="0.8" fill="#6a3598"/>
<circle cx="247.67" cy="120.05" r="0.8" fill="#6a3598"/>
<circle cx="247.21" cy="121.95" r="0.8" fill="#6a3598"/>
<circle cx="247.35" cy="123.10" r="0.8" fill="#6a3598"/>
<circle cx="247.67" cy="125.39" r="0.8" fill="#6a3598"/>
<circle cx="247.34" cy="126.15" r="0.8" fill="#6a3598"/>
<circle cx="247.68" cy="127.84" r="0.8" fill="#6a3598"/>
<circle cx="247.13" cy="129.31" r="0.8" fill="#6a3598"/>
<circle cx="247.34" cy="130.76" r="0.8" fill="#6a3598"/>
<circle cx="247.63" cy="133.67" r="0.8" fill="#6a3598"/>
<circle cx="247.70" cy="134.99" r="0.8" fill="#6a3598"/>
<circle cx="247.30" cy="136.89" r="0.8" fill="#6a3598"/>
<line x1="241.00" y1="87.20" x2="253.80" y2="87.20" stroke="#5b2c8c" stroke-width="1.3" />
<path d="M190.6,54.6 V30 H247.4 V40.8" stroke="#222" stroke-width="0.8" fill="none" />
<text x="219.20" y="27.94" font-size="7.0" text-anchor="middle" fill="#111" font-weight="normal" >**</text>
<path d="M209.4,56.2 V45.4 H247.4 V56.2" stroke="#222" stroke-width="0.8" fill="none" />
<text x="228.50" y="42.84" font-size="7.0" text-anchor="middle" fill="#111" font-weight="normal" >***</text>
<text transform="translate(192.90,145.00) rotate(-45)" font-size="8.0" text-anchor="end" fill="#111">NPC (n = 21)</text>
<text transform="translate(211.70,145.00) rotate(-45)" font-size="8.0" text-anchor="end" fill="#111">MGUS (n = 44)</text>
<text transform="translate(230.70,145.00) rotate(-45)" font-size="8.0" text-anchor="end" fill="#111">SMM (n = 12)</text>
<text transform="translate(249.70,145.00) rotate(-45)" font-size="8.0" text-anchor="end" fill="#111">MM (n = 559)</text>
<line x1="305.80" y1="44.60" x2="305.80" y2="137.40" stroke="#222" stroke-width="0.9" />
<line x1="302.80" y1="45.00" x2="305.80" y2="45.00" stroke="#222" stroke-width="0.9" />
<text x="300.50" y="47.50" font-size="7.5" text-anchor="end" fill="#111" font-weight="normal" >12</text>
<line x1="302.80" y1="68.00" x2="305.80" y2="68.00" stroke="#222" stroke-width="0.9" />
<text x="300.50" y="70.50" font-size="7.5" text-anchor="end" fill="#111" font-weight="normal" >10</text>
<line x1="302.80" y1="91.00" x2="305.80" y2="91.00" stroke="#222" stroke-width="0.9" />
<text x="300.50" y="93.50" font-size="7.5" text-anchor="end" fill="#111" font-weight="normal" >8</text>
<line x1="302.80" y1="114.00" x2="305.80" y2="114.00" stroke="#222" stroke-width="0.9" />
<text x="300.50" y="116.50" font-size="7.5" text-anchor="end" fill="#111" font-weight="normal" >6</text>
<line x1="302.80" y1="137.00" x2="305.80" y2="137.00" stroke="#222" stroke-width="0.9" />
<text x="300.50" y="139.50" font-size="7.5" text-anchor="end" fill="#111" font-weight="normal" >4</text>
<line x1="305.80" y1="137.00" x2="388.50" y2="137.00" stroke="#222" stroke-width="0.9" />
<line x1="318.40" y1="137.00" x2="318.40" y2="140.00" stroke="#222" stroke-width="0.9" />
<line x1="337.00" y1="137.00" x2="337.00" y2="140.00" stroke="#222" stroke-width="0.9" />
<line x1="356.20" y1="137.00" x2="356.20" y2="140.00" stroke="#222" stroke-width="0.9" />
<line x1="375.00" y1="137.00" x2="375.00" y2="140.00" stroke="#222" stroke-width="0.9" />
<text class="h" transform="translate(287.50,90.00) rotate(-90) scale(0.7195,1)" font-size="8.8" text-anchor="middle" fill="#111">CTBP2 expression (log<tspan font-size="5.72" dy="1.6">2</tspan><tspan dy="-1.6">)</tspan></text>
<circle cx="320.49" cy="60.40" r="0.85" fill="#2b6cb0"/>
<circle cx="316.41" cy="61.50" r="0.85" fill="#2b6cb0"/>
<circle cx="318.38" cy="63.00" r="0.85" fill="#2b6cb0"/>
<circle cx="316.50" cy="64.50" r="0.85" fill="#2b6cb0"/>
<circle cx="320.33" cy="66.00" r="0.85" fill="#2b6cb0"/>
<circle cx="316.69" cy="67.00" r="0.85" fill="#2b6cb0"/>
<circle cx="320.37" cy="68.00" r="0.85" fill="#2b6cb0"/>
<circle cx="318.15" cy="68.50" r="0.85" fill="#2b6cb0"/>
<circle cx="322.15" cy="69.50" r="0.85" fill="#2b6cb0"/>
<circle cx="314.35" cy="70.00" r="0.85" fill="#2b6cb0"/>
<circle cx="320.44" cy="71.00" r="0.85" fill="#2b6cb0"/>
<circle cx="316.56" cy="72.00" r="0.85" fill="#2b6cb0"/>
<circle cx="316.31" cy="73.00" r="0.85" fill="#2b6cb0"/>
<circle cx="320.59" cy="74.20" r="0.85" fill="#2b6cb0"/>
<circle cx="318.59" cy="86.00" r="0.85" fill="#2b6cb0"/>
<line x1="311.90" y1="69.90" x2="324.90" y2="69.90" stroke="#2b6cb0" stroke-width="1.1" />
<circle cx="338.71" cy="70.90" r="0.85" fill="#c31d3b"/>
<circle cx="336.81" cy="71.76" r="0.85" fill="#c31d3b"/>
<circle cx="339.63" cy="72.10" r="0.85" fill="#c31d3b"/>
<circle cx="337.11" cy="73.03" r="0.85" fill="#c31d3b"/>
<circle cx="334.62" cy="73.44" r="0.85" fill="#c31d3b"/>
<circle cx="335.84" cy="73.73" r="0.85" fill="#c31d3b"/>
<circle cx="333.12" cy="74.66" r="0.85" fill="#c31d3b"/>
<circle cx="334.59" cy="75.36" r="0.85" fill="#c31d3b"/>
<circle cx="332.88" cy="75.62" r="0.85" fill="#c31d3b"/>
<circle cx="339.15" cy="76.66" r="0.85" fill="#c31d3b"/>
<circle cx="338.04" cy="77.17" r="0.85" fill="#c31d3b"/>
<circle cx="335.46" cy="77.26" r="0.85" fill="#c31d3b"/>
<circle cx="333.54" cy="78.12" r="0.85" fill="#c31d3b"/>
<circle cx="335.82" cy="78.97" r="0.85" fill="#c31d3b"/>
<circle cx="337.89" cy="80.65" r="0.85" fill="#c31d3b"/>
<circle cx="338.20" cy="84.71" r="0.85" fill="#c31d3b"/>
<circle cx="337.15" cy="90.27" r="0.85" fill="#c31d3b"/>
<circle cx="336.96" cy="94.00" r="0.85" fill="#c31d3b"/>
<circle cx="335.70" cy="97.53" r="0.85" fill="#c31d3b"/>
<circle cx="336.26" cy="104.56" r="0.85" fill="#c31d3b"/>
<circle cx="336.18" cy="108.39" r="0.85" fill="#c31d3b"/>
<circle cx="338.10" cy="113.37" r="0.85" fill="#c31d3b"/>
<line x1="330.40" y1="82.50" x2="343.60" y2="82.50" stroke="#c31d3b" stroke-width="1.1" />
<circle cx="358.41" cy="70.09" r="0.85" fill="#5db04f"/>
<circle cx="358.13" cy="71.27" r="0.85" fill="#5db04f"/>
<circle cx="356.00" cy="72.05" r="0.85" fill="#5db04f"/>
<circle cx="353.69" cy="74.50" r="0.85" fill="#5db04f"/>
<circle cx="359.46" cy="76.08" r="0.85" fill="#5db04f"/>
<circle cx="355.07" cy="76.78" r="0.85" fill="#5db04f"/>
<circle cx="355.24" cy="78.27" r="0.85" fill="#5db04f"/>
<circle cx="355.25" cy="80.49" r="0.85" fill="#5db04f"/>
<circle cx="352.78" cy="80.54" r="0.85" fill="#5db04f"/>
<circle cx="360.34" cy="82.97" r="0.85" fill="#5db04f"/>
<circle cx="356.13" cy="84.09" r="0.85" fill="#5db04f"/>
<circle cx="358.28" cy="85.60" r="0.85" fill="#5db04f"/>
<circle cx="357.11" cy="86.57" r="0.85" fill="#5db04f"/>
<circle cx="357.23" cy="88.49" r="0.85" fill="#5db04f"/>
<circle cx="353.43" cy="89.38" r="0.85" fill="#5db04f"/>
<circle cx="359.79" cy="91.06" r="0.85" fill="#5db04f"/>
<circle cx="356.43" cy="93.04" r="0.85" fill="#5db04f"/>
<circle cx="355.25" cy="95.92" r="0.85" fill="#5db04f"/>
<circle cx="356.95" cy="98.20" r="0.85" fill="#5db04f"/>
<circle cx="355.90" cy="103.33" r="0.85" fill="#5db04f"/>
<circle cx="356.62" cy="106.05" r="0.85" fill="#5db04f"/>
<circle cx="357.30" cy="109.70" r="0.85" fill="#5db04f"/>
<circle cx="357.37" cy="111.22" r="0.85" fill="#5db04f"/>
<circle cx="356.42" cy="115.88" r="0.85" fill="#5db04f"/>
<line x1="349.70" y1="88.40" x2="362.70" y2="88.40" stroke="#5db04f" stroke-width="1.1" />
<circle cx="375.00" cy="68.33" r="0.85" fill="#5b2c8c"/>
<circle cx="372.17" cy="74.64" r="0.85" fill="#5b2c8c"/>
<circle cx="371.22" cy="75.19" r="0.85" fill="#5b2c8c"/>
<circle cx="378.42" cy="75.26" r="0.85" fill="#5b2c8c"/>
<circle cx="374.81" cy="75.89" r="0.85" fill="#5b2c8c"/>
<circle cx="369.98" cy="76.29" r="0.85" fill="#5b2c8c"/>
<circle cx="372.65" cy="76.44" r="0.85" fill="#5b2c8c"/>
<circle cx="371.31" cy="76.87" r="0.85" fill="#5b2c8c"/>
<circle cx="373.19" cy="77.11" r="0.85" fill="#5b2c8c"/>
<circle cx="380.41" cy="77.79" r="0.85" fill="#5b2c8c"/>
<circle cx="374.76" cy="78.10" r="0.85" fill="#5b2c8c"/>
<circle cx="380.14" cy="78.29" r="0.85" fill="#5b2c8c"/>
<circle cx="377.56" cy="78.76" r="0.85" fill="#5b2c8c"/>
<circle cx="371.78" cy="78.95" r="0.85" fill="#5b2c8c"/>
<circle cx="378.31" cy="79.61" r="0.85" fill="#5b2c8c"/>
<circle cx="376.14" cy="80.00" r="0.85" fill="#5b2c8c"/>
<circle cx="375.91" cy="80.20" r="0.85" fill="#5b2c8c"/>
<circle cx="372.85" cy="80.73" r="0.85" fill="#5b2c8c"/>
<circle cx="372.49" cy="80.98" r="0.85" fill="#5b2c8c"/>
<circle cx="369.51" cy="81.44" r="0.85" fill="#5b2c8c"/>
<circle cx="380.08" cy="81.78" r="0.85" fill="#5b2c8c"/>
<circle cx="376.05" cy="81.90" r="0.85" fill="#5b2c8c"/>
<circle cx="378.94" cy="82.50" r="0.85" fill="#5b2c8c"/>
<circle cx="372.28" cy="82.85" r="0.85" fill="#5b2c8c"/>
<circle cx="380.14" cy="83.15" r="0.85" fill="#5b2c8c"/>
<circle cx="370.90" cy="83.70" r="0.85" fill="#5b2c8c"/>
<circle cx="370.45" cy="83.77" r="0.85" fill="#5b2c8c"/>
<circle cx="374.40" cy="84.12" r="0.85" fill="#5b2c8c"/>
<circle cx="379.11" cy="84.53" r="0.85" fill="#5b2c8c"/>
<circle cx="370.82" cy="85.09" r="0.85" fill="#5b2c8c"/>
<circle cx="373.03" cy="85.42" r="0.85" fill="#5b2c8c"/>
<circle cx="371.86" cy="85.77" r="0.85" fill="#5b2c8c"/>
<circle cx="371.46" cy="86.02" r="0.85" fill="#5b2c8c"/>
<circle cx="377.35" cy="86.47" r="0.85" fill="#5b2c8c"/>
<circle cx="369.92" cy="86.90" r="0.85" fill="#5b2c8c"/>
<circle cx="379.19" cy="87.33" r="0.85" fill="#5b2c8c"/>
<circle cx="378.26" cy="87.72" r="0.85" fill="#5b2c8c"/>
<circle cx="374.60" cy="87.81" r="0.85" fill="#5b2c8c"/>
<circle cx="377.96" cy="88.20" r="0.85" fill="#5b2c8c"/>
<circle cx="377.37" cy="88.61" r="0.85" fill="#5b2c8c"/>
<circle cx="377.20" cy="89.01" r="0.85" fill="#5b2c8c"/>
<circle cx="369.87" cy="89.40" r="0.85" fill="#5b2c8c"/>
<circle cx="372.87" cy="89.80" r="0.85" fill="#5b2c8c"/>
<circle cx="372.70" cy="90.35" r="0.85" fill="#5b2c8c"/>
<circle cx="375.55" cy="90.58" r="0.85" fill="#5b2c8c"/>
<circle cx="370.50" cy="91.11" r="0.85" fill="#5b2c8c"/>
<circle cx="375.09" cy="91.35" r="0.85" fill="#5b2c8c"/>
<circle cx="377.78" cy="92.76" r="0.85" fill="#5b2c8c"/>
<circle cx="376.18" cy="93.35" r="0.85" fill="#5b2c8c"/>
<circle cx="375.35" cy="94.60" r="0.85" fill="#5b2c8c"/>
<circle cx="376.83" cy="95.16" r="0.85" fill="#5b2c8c"/>
<circle cx="374.18" cy="97.13" r="0.85" fill="#5b2c8c"/>
<circle cx="377.80" cy="97.48" r="0.85" fill="#5b2c8c"/>
<circle cx="372.62" cy="98.30" r="0.85" fill="#5b2c8c"/>
<circle cx="376.75" cy="99.29" r="0.85" fill="#5b2c8c"/>
<circle cx="374.72" cy="101.03" r="0.85" fill="#5b2c8c"/>
<circle cx="372.40" cy="101.92" r="0.85" fill="#5b2c8c"/>
<circle cx="374.69" cy="102.98" r="0.85" fill="#5b2c8c"/>
<circle cx="374.42" cy="103.88" r="0.85" fill="#5b2c8c"/>
<circle cx="373.56" cy="104.79" r="0.85" fill="#5b2c8c"/>
<circle cx="374.66" cy="105.46" r="0.85" fill="#5b2c8c"/>
<circle cx="376.05" cy="106.69" r="0.85" fill="#5b2c8c"/>
<circle cx="376.12" cy="108.31" r="0.85" fill="#5b2c8c"/>
<circle cx="373.69" cy="108.97" r="0.85" fill="#5b2c8c"/>
<circle cx="374.93" cy="109.93" r="0.85" fill="#5b2c8c"/>
<circle cx="377.24" cy="111.21" r="0.85" fill="#5b2c8c"/>
<circle cx="374.90" cy="111.68" r="0.85" fill="#5b2c8c"/>
<circle cx="376.03" cy="113.13" r="0.85" fill="#5b2c8c"/>
<circle cx="376.30" cy="114.57" r="0.85" fill="#5b2c8c"/>
<circle cx="376.19" cy="115.33" r="0.85" fill="#5b2c8c"/>
<circle cx="376.63" cy="116.41" r="0.85" fill="#5b2c8c"/>
<circle cx="375.82" cy="117.47" r="0.85" fill="#5b2c8c"/>
<circle cx="376.85" cy="118.03" r="0.85" fill="#5b2c8c"/>
<circle cx="375.50" cy="119.21" r="0.85" fill="#5b2c8c"/>
<circle cx="376.98" cy="120.69" r="0.85" fill="#5b2c8c"/>
<circle cx="372.92" cy="121.90" r="0.85" fill="#5b2c8c"/>
<circle cx="374.21" cy="122.23" r="0.85" fill="#5b2c8c"/>
<circle cx="373.54" cy="123.34" r="0.85" fill="#5b2c8c"/>
<circle cx="373.30" cy="124.54" r="0.85" fill="#5b2c8c"/>
<line x1="368.80" y1="91.50" x2="381.20" y2="91.50" stroke="#5b2c8c" stroke-width="1.2" />
<path d="M318.4,32.3 V26.15 H375.0 V46.9" stroke="#222" stroke-width="0.8" fill="none" />
<text x="346.60" y="24.14" font-size="7.0" text-anchor="middle" fill="#111" font-weight="normal" >****</text>
<path d="M318.4,46.9 V36.9 H356.2 V41.5" stroke="#222" stroke-width="0.8" fill="none" />
<text x="337.40" y="34.14" font-size="7.0" text-anchor="middle" fill="#111" font-weight="normal" >****</text>
<path d="M318.4,59.2 V51.8 H335.7 V59.2" stroke="#222" stroke-width="0.8" fill="none" />
<path d="M338.2,59.2 V51.8 H375.0 V59.2" stroke="#222" stroke-width="0.8" fill="none" />
<text x="326.90" y="49.84" font-size="7.0" text-anchor="middle" fill="#111" font-weight="normal" >*</text>
<text x="356.90" y="49.84" font-size="7.0" text-anchor="middle" fill="#111" font-weight="normal" >*</text>
<text transform="translate(320.70,145.00) rotate(-45)" font-size="8.0" text-anchor="end" fill="#111">NPC (n = 15)</text>
<text transform="translate(339.30,145.00) rotate(-45)" font-size="8.0" text-anchor="end" fill="#111">MGUS (n = 22)</text>
<text transform="translate(358.50,145.00) rotate(-45)" font-size="8.0" text-anchor="end" fill="#111">SMM (n = 24)</text>
<text transform="translate(377.30,145.00) rotate(-45)" font-size="8.0" text-anchor="end" fill="#111">New MM (n = 79)</text>
<line x1="431.00" y1="44.60" x2="431.00" y2="137.40" stroke="#222" stroke-width="0.9" />
<line x1="428.00" y1="45.10" x2="431.00" y2="45.10" stroke="#222" stroke-width="0.9" />
<text x="425.50" y="47.60" font-size="7.5" text-anchor="end" fill="#111" font-weight="normal" >9</text>
<line x1="428.00" y1="63.52" x2="431.00" y2="63.52" stroke="#222" stroke-width="0.9" />
<text x="425.50" y="66.02" font-size="7.5" text-anchor="end" fill="#111" font-weight="normal" >8</text>
<line x1="428.00" y1="81.94" x2="431.00" y2="81.94" stroke="#222" stroke-width="0.9" />
<text x="425.50" y="84.44" font-size="7.5" text-anchor="end" fill="#111" font-weight="normal" >7</text>
<line x1="428.00" y1="100.36" x2="431.00" y2="100.36" stroke="#222" stroke-width="0.9" />
<text x="425.50" y="102.86" font-size="7.5" text-anchor="end" fill="#111" font-weight="normal" >6</text>
<line x1="428.00" y1="118.78" x2="431.00" y2="118.78" stroke="#222" stroke-width="0.9" />
<text x="425.50" y="121.28" font-size="7.5" text-anchor="end" fill="#111" font-weight="normal" >5</text>
<line x1="428.00" y1="137.20" x2="431.00" y2="137.20" stroke="#222" stroke-width="0.9" />
<text x="425.50" y="139.70" font-size="7.5" text-anchor="end" fill="#111" font-weight="normal" >4</text>
<line x1="431.00" y1="137.00" x2="513.80" y2="137.00" stroke="#222" stroke-width="0.9" />
<line x1="443.60" y1="137.00" x2="443.60" y2="140.00" stroke="#222" stroke-width="0.9" />
<line x1="462.30" y1="137.00" x2="462.30" y2="140.00" stroke="#222" stroke-width="0.9" />
<line x1="481.20" y1="137.00" x2="481.20" y2="140.00" stroke="#222" stroke-width="0.9" />
<line x1="500.50" y1="137.00" x2="500.50" y2="140.00" stroke="#222" stroke-width="0.9" />
<text class="h" transform="translate(415.30,89.80) rotate(-90) scale(0.7144,1)" font-size="8.8" text-anchor="middle" fill="#111">CTBP2 expression (log<tspan font-size="5.72" dy="1.6">2</tspan><tspan dy="-1.6">)</tspan></text>
<circle cx="441.35" cy="92.80" r="0.85" fill="#2b6cb0"/>
<circle cx="445.72" cy="93.50" r="0.85" fill="#2b6cb0"/>
<circle cx="445.52" cy="95.20" r="0.85" fill="#2b6cb0"/>
<circle cx="441.85" cy="96.50" r="0.85" fill="#2b6cb0"/>
<circle cx="443.42" cy="98.00" r="0.85" fill="#2b6cb0"/>
<line x1="437.30" y1="94.70" x2="449.90" y2="94.70" stroke="#2b6cb0" stroke-width="1.2" />
<circle cx="462.22" cy="74.60" r="0.85" fill="#c31d3b"/>
<circle cx="462.54" cy="78.00" r="0.85" fill="#c31d3b"/>
<circle cx="462.02" cy="81.00" r="0.85" fill="#c31d3b"/>
<circle cx="462.25" cy="84.50" r="0.85" fill="#c31d3b"/>
<circle cx="462.49" cy="88.00" r="0.85" fill="#c31d3b"/>
<circle cx="462.46" cy="90.00" r="0.85" fill="#c31d3b"/>
<circle cx="462.02" cy="92.00" r="0.85" fill="#c31d3b"/>
<circle cx="464.28" cy="94.00" r="0.85" fill="#c31d3b"/>
<circle cx="460.48" cy="95.00" r="0.85" fill="#c31d3b"/>
<circle cx="463.95" cy="96.00" r="0.85" fill="#c31d3b"/>
<circle cx="467.04" cy="97.00" r="0.85" fill="#c31d3b"/>
<circle cx="460.70" cy="97.50" r="0.85" fill="#c31d3b"/>
<circle cx="457.66" cy="98.00" r="0.85" fill="#c31d3b"/>
<circle cx="464.16" cy="99.00" r="0.85" fill="#c31d3b"/>
<circle cx="460.43" cy="100.00" r="0.85" fill="#c31d3b"/>
<circle cx="460.55" cy="101.00" r="0.85" fill="#c31d3b"/>
<circle cx="464.18" cy="103.00" r="0.85" fill="#c31d3b"/>
<circle cx="462.43" cy="105.50" r="0.85" fill="#c31d3b"/>
<circle cx="462.36" cy="107.50" r="0.85" fill="#c31d3b"/>
<circle cx="462.48" cy="109.20" r="0.85" fill="#c31d3b"/>
<line x1="455.90" y1="96.20" x2="468.70" y2="96.20" stroke="#c31d3b" stroke-width="1.2" />
<circle cx="480.94" cy="82.40" r="0.85" fill="#5db04f"/>
<circle cx="481.27" cy="88.00" r="0.85" fill="#5db04f"/>
<circle cx="481.03" cy="92.00" r="0.85" fill="#5db04f"/>
<circle cx="482.98" cy="104.56" r="0.85" fill="#5db04f"/>
<circle cx="479.44" cy="103.99" r="0.85" fill="#5db04f"/>
<circle cx="475.80" cy="104.31" r="0.85" fill="#5db04f"/>
<circle cx="477.68" cy="103.57" r="0.85" fill="#5db04f"/>
<circle cx="485.07" cy="104.92" r="0.85" fill="#5db04f"/>
<circle cx="486.80" cy="104.28" r="0.85" fill="#5db04f"/>
<circle cx="480.97" cy="105.47" r="0.85" fill="#5db04f"/>
<circle cx="476.44" cy="102.45" r="0.85" fill="#5db04f"/>
<circle cx="485.92" cy="101.92" r="0.85" fill="#5db04f"/>
<circle cx="479.74" cy="102.67" r="0.85" fill="#5db04f"/>
<circle cx="482.62" cy="102.26" r="0.85" fill="#5db04f"/>
<circle cx="482.17" cy="101.10" r="0.85" fill="#5db04f"/>
<circle cx="480.34" cy="100.73" r="0.85" fill="#5db04f"/>
<circle cx="475.51" cy="99.17" r="0.85" fill="#5db04f"/>
<circle cx="484.24" cy="99.96" r="0.85" fill="#5db04f"/>
<circle cx="486.55" cy="100.44" r="0.85" fill="#5db04f"/>
<circle cx="477.75" cy="101.10" r="0.85" fill="#5db04f"/>
<circle cx="484.04" cy="98.08" r="0.85" fill="#5db04f"/>
<circle cx="475.99" cy="98.73" r="0.85" fill="#5db04f"/>
<circle cx="480.96" cy="97.08" r="0.85" fill="#5db04f"/>
<circle cx="478.43" cy="98.53" r="0.85" fill="#5db04f"/>
<circle cx="486.89" cy="98.83" r="0.85" fill="#5db04f"/>
<circle cx="481.40" cy="95.16" r="0.85" fill="#5db04f"/>
<circle cx="481.45" cy="110.07" r="0.85" fill="#5db04f"/>
<circle cx="478.18" cy="106.54" r="0.85" fill="#5db04f"/>
<circle cx="484.01" cy="106.90" r="0.85" fill="#5db04f"/>
<circle cx="486.90" cy="105.69" r="0.85" fill="#5db04f"/>
<circle cx="481.02" cy="106.22" r="0.85" fill="#5db04f"/>
<circle cx="475.45" cy="106.89" r="0.85" fill="#5db04f"/>
<circle cx="481.21" cy="109.52" r="0.85" fill="#5db04f"/>
<line x1="474.80" y1="103.20" x2="487.60" y2="103.20" stroke="#5db04f" stroke-width="1.2" />
<circle cx="500.45" cy="84.70" r="0.85" fill="#5b2c8c"/>
<circle cx="500.21" cy="89.00" r="0.85" fill="#5b2c8c"/>
<circle cx="500.66" cy="92.00" r="0.85" fill="#5b2c8c"/>
<circle cx="500.68" cy="95.00" r="0.85" fill="#5b2c8c"/>
<circle cx="506.46" cy="104.23" r="0.85" fill="#5b2c8c"/>
<circle cx="498.29" cy="105.59" r="0.85" fill="#5b2c8c"/>
<circle cx="494.27" cy="104.31" r="0.85" fill="#5b2c8c"/>
<circle cx="502.25" cy="104.24" r="0.85" fill="#5b2c8c"/>
<circle cx="500.55" cy="104.85" r="0.85" fill="#5b2c8c"/>
<circle cx="496.42" cy="105.00" r="0.85" fill="#5b2c8c"/>
<circle cx="504.66" cy="104.28" r="0.85" fill="#5b2c8c"/>
<circle cx="506.18" cy="107.78" r="0.85" fill="#5b2c8c"/>
<circle cx="500.75" cy="106.60" r="0.85" fill="#5b2c8c"/>
<circle cx="503.05" cy="107.56" r="0.85" fill="#5b2c8c"/>
<circle cx="494.97" cy="107.02" r="0.85" fill="#5b2c8c"/>
<circle cx="497.62" cy="106.90" r="0.85" fill="#5b2c8c"/>
<circle cx="501.77" cy="98.39" r="0.85" fill="#5b2c8c"/>
<circle cx="504.71" cy="99.48" r="0.85" fill="#5b2c8c"/>
<circle cx="496.56" cy="98.27" r="0.85" fill="#5b2c8c"/>
<circle cx="498.87" cy="98.52" r="0.85" fill="#5b2c8c"/>
<circle cx="503.18" cy="108.48" r="0.85" fill="#5b2c8c"/>
<circle cx="497.90" cy="109.02" r="0.85" fill="#5b2c8c"/>
<circle cx="500.23" cy="109.01" r="0.85" fill="#5b2c8c"/>
<circle cx="506.25" cy="103.70" r="0.85" fill="#5b2c8c"/>
<circle cx="497.03" cy="102.69" r="0.85" fill="#5b2c8c"/>
<circle cx="504.21" cy="103.92" r="0.85" fill="#5b2c8c"/>
<circle cx="494.73" cy="103.61" r="0.85" fill="#5b2c8c"/>
<circle cx="499.38" cy="102.46" r="0.85" fill="#5b2c8c"/>
<circle cx="501.91" cy="102.42" r="0.85" fill="#5b2c8c"/>
<circle cx="497.90" cy="100.36" r="0.85" fill="#5b2c8c"/>
<circle cx="494.71" cy="100.19" r="0.85" fill="#5b2c8c"/>
<circle cx="500.33" cy="100.24" r="0.85" fill="#5b2c8c"/>
<circle cx="503.24" cy="100.12" r="0.85" fill="#5b2c8c"/>
<circle cx="506.11" cy="101.76" r="0.85" fill="#5b2c8c"/>
<circle cx="501.69" cy="112.09" r="0.85" fill="#5b2c8c"/>
<circle cx="496.58" cy="113.67" r="0.85" fill="#5b2c8c"/>
<circle cx="499.29" cy="113.15" r="0.85" fill="#5b2c8c"/>
<circle cx="504.52" cy="113.82" r="0.85" fill="#5b2c8c"/>
<circle cx="502.00" cy="115.43" r="0.85" fill="#5b2c8c"/>
<circle cx="498.99" cy="114.48" r="0.85" fill="#5b2c8c"/>
<circle cx="500.43" cy="118.44" r="0.85" fill="#5b2c8c"/>
<line x1="494.30" y1="104.00" x2="506.70" y2="104.00" stroke="#5b2c8c" stroke-width="1.3" />
<path d="M443.6,50.1 V30.4 H500.5 V37.3" stroke="#222" stroke-width="0.8" fill="none" />
<text x="471.90" y="28.14" font-size="7.0" text-anchor="middle" fill="#111" font-weight="normal" >*</text>
<path d="M462.3,43.9 V42.2 H500.5 V79.6" stroke="#222" stroke-width="0.8" fill="none" />
<text x="481.20" y="39.44" font-size="7.0" text-anchor="middle" fill="#111" font-weight="normal" >***</text>
<text x="462.40" y="53.24" font-size="7.0" text-anchor="middle" fill="#111" font-weight="normal" >*</text>
<path d="M443.6,89.6 V55.8 H481.2 V61.2" stroke="#222" stroke-width="0.8" fill="none" />
<text x="471.90" y="62.14" font-size="7.0" text-anchor="middle" fill="#111" font-weight="normal" >**</text>
<path d="M462.3,68.1 V64.5 H481.2 V75.8" stroke="#222" stroke-width="0.8" fill="none" />
<text transform="translate(445.90,145.00) rotate(-45)" font-size="8.0" text-anchor="end" fill="#111">NPC (n = 5)</text>
<text transform="translate(464.60,145.00) rotate(-45)" font-size="8.0" text-anchor="end" fill="#111">MGUS (n = 20)</text>
<text transform="translate(483.50,145.00) rotate(-45)" font-size="8.0" text-anchor="end" fill="#111">SMM (n = 33)</text>
<text transform="translate(502.80,145.00) rotate(-45)" font-size="8.0" text-anchor="end" fill="#111">MM (n = 41)</text>
<text x="6.30" y="213.50" font-size="10.5" text-anchor="start" fill="#111" font-weight="bold" >C</text>
<path d="M45.5,238 Q45.5,235 48,235 H143 Q145.5,235 145.5,237.6" stroke="#555" stroke-width="0.8" fill="none" />
<path d="M146.2,237.6 Q146.2,235 148.5,235 H158 Q160.5,235 160.5,238" stroke="#555" stroke-width="0.8" fill="none" />
<text x="95.50" y="232.20" font-size="7.6" text-anchor="middle" fill="#111" font-weight="normal" >MM</text>
<text x="152.60" y="232.20" font-size="7.6" text-anchor="middle" fill="#111" font-weight="normal" >B-ALL</text>
<text transform="translate(49.96,273.40) rotate(-45)" font-size="7.45" fill="#1a1a1a">KMS-12-PE</text>
<text transform="translate(64.27,273.40) rotate(-45)" font-size="7.45" fill="#1a1a1a">L363</text>
<text transform="translate(78.58,273.40) rotate(-45)" font-size="7.45" fill="#1a1a1a">MM.1S</text>
<text transform="translate(92.89,273.40) rotate(-45)" font-size="7.45" fill="#1a1a1a">NCI-H929</text>
<text transform="translate(107.21,273.40) rotate(-45)" font-size="7.45" fill="#1a1a1a">OPM2</text>
<text transform="translate(121.52,273.40) rotate(-45)" font-size="7.45" fill="#1a1a1a">RPMI8226</text>
<text transform="translate(135.83,273.40) rotate(-45)" font-size="7.45" fill="#1a1a1a">U266</text>
<text transform="translate(150.14,273.40) rotate(-45)" font-size="7.45" fill="#1a1a1a">SEM</text>
<rect x="44.80" y="276.00" width="114.50" height="10.70" fill="#111" />
<rect x="146.34" y="280.6" width="11.6" height="3" rx="1.2" fill="#d8d8d8" opacity="0.85"/>
<rect x="44.80" y="290.20" width="114.50" height="10.80" fill="#0c0c0c" />
<rect x="45.96" y="294.1" width="12.0" height="2.3" rx="1.1" fill="#f6f6f6" opacity="0.95"/>
<rect x="60.27" y="294.1" width="12.0" height="2.3" rx="1.1" fill="#f6f6f6" opacity="0.95"/>
<rect x="74.58" y="294.1" width="12.0" height="2.3" rx="1.1" fill="#f6f6f6" opacity="0.75"/>
<rect x="88.89" y="294.1" width="12.0" height="2.3" rx="1.1" fill="#f6f6f6" opacity="0.8"/>
<rect x="103.21" y="294.1" width="12.0" height="2.3" rx="1.1" fill="#f6f6f6" opacity="0.95"/>
<rect x="117.52" y="294.1" width="12.0" height="2.3" rx="1.1" fill="#f6f6f6" opacity="0.9"/>
<rect x="131.83" y="294.1" width="12.0" height="2.3" rx="1.1" fill="#f6f6f6" opacity="0.85"/>
<rect x="146.14" y="294.1" width="12.0" height="2.3" rx="1.1" fill="#f6f6f6" opacity="0.85"/>
<rect x="44.80" y="305.1" width="114.50" height="11.5" fill="#f6f6f6" stroke="#8a8a8a" stroke-width="0.8"/>
<rect x="146.74" y="308.3" width="11.2" height="6.4" rx="2" fill="#111"/>
<rect x="44.80" y="320.1" width="114.50" height="11.3" fill="#f2f2f2" stroke="#8a8a8a" stroke-width="0.8"/>
<rect x="45.96" y="322.60" width="12.00" height="5.60" rx="2.2" fill="#141414"/>
<rect x="59.97" y="322.60" width="12.60" height="5.60" rx="2.2" fill="#141414"/>
<rect x="74.08" y="322.30" width="13.00" height="6.20" rx="2.2" fill="#141414"/>
<rect x="89.89" y="323.70" width="10.00" height="3.40" rx="2.2" fill="#141414"/>
<rect x="103.21" y="323.00" width="12.00" height="4.80" rx="2.2" fill="#141414"/>
<rect x="117.32" y="322.60" width="12.40" height="5.60" rx="2.2" fill="#141414"/>
<rect x="131.73" y="322.80" width="12.20" height="5.20" rx="2.2" fill="#141414"/>
<rect x="145.84" y="322.40" width="12.60" height="6.00" rx="2.2" fill="#141414"/>
<text x="42.60" y="284.20" font-size="7.6" text-anchor="end" fill="#111" font-weight="normal" >CTBP2</text>
<text x="42.60" y="297.40" font-size="7.6" text-anchor="end" fill="#111" font-weight="normal" >GAPDH</text>
<text x="42.60" y="312.70" font-size="7.6" text-anchor="end" fill="#111" font-weight="normal" >CTBP2</text>
<text x="42.60" y="328.20" font-size="7.6" text-anchor="end" fill="#111" font-weight="normal" >ACTIN</text>
<text x="162.40" y="304.90" font-size="7.6" text-anchor="start" fill="#111" font-weight="normal" >kDa</text>
<text x="162.00" y="313.80" font-size="7.6" text-anchor="start" fill="#111" font-weight="normal" >◂ 48</text>
<text x="162.00" y="327.30" font-size="7.6" text-anchor="start" fill="#111" font-weight="normal" >◂ 48</text>
<text x="197.80" y="213.50" font-size="10.5" text-anchor="start" fill="#111" font-weight="bold" >D</text>
<rect x="225.60" y="261.70" width="154.20" height="70.30" fill="#d0d0d0" />
<line x1="226.30" y1="228.30" x2="346.90" y2="228.30" stroke="#9a9a9a" stroke-width="1.3" />
<line x1="349.40" y1="228.30" x2="375.50" y2="228.30" stroke="#9a9a9a" stroke-width="1.3" />
<text x="286.60" y="225.20" font-size="7.9" text-anchor="middle" fill="#111" font-weight="normal" >MM</text>
<text x="362.80" y="225.20" font-size="7.9" text-anchor="middle" fill="#111" font-weight="normal" >B-ALL</text>
<text transform="translate(238.00,259.90) rotate(-45)" font-size="8.1" fill="#1a1a1a">MM #16</text>
<text transform="translate(268.85,259.90) rotate(-45)" font-size="8.1" fill="#1a1a1a">NCI-H929</text>
<text transform="translate(299.30,259.90) rotate(-45)" font-size="8.1" fill="#1a1a1a">OPM2</text>
<text transform="translate(329.95,259.90) rotate(-45)" font-size="8.1" fill="#1a1a1a">U266</text>
<text transform="translate(361.10,259.90) rotate(-45)" font-size="8.1" fill="#1a1a1a">SEM</text>
<text x="222.80" y="276.30" font-size="7.8" text-anchor="end" fill="#111" font-weight="normal" >CTBP2</text>
<text x="222.80" y="299.60" font-size="7.8" text-anchor="end" fill="#111" font-weight="normal" >DAPI</text>
<text x="222.80" y="323.10" font-size="7.8" text-anchor="end" fill="#111" font-weight="normal" >Merge</text>
<rect x="226.30" y="262.40" width="29.80" height="22.10" fill="#060906" />
<svg x="226.30" y="262.40" width="29.80" height="22.10" overflow="hidden">
<circle cx="2.38" cy="3.32" r="1.20" fill="#1a3a1a" opacity="0.3" filter="url(#bl)"/>
<circle cx="7.45" cy="4.42" r="1.20" fill="#1a3a1a" opacity="0.3" filter="url(#bl)"/>
<circle cx="11.32" cy="9.95" r="1.30" fill="#1a3a1a" opacity="0.3" filter="url(#bl)"/>
<circle cx="14.90" cy="11.05" r="1.30" fill="#1a3a1a" opacity="0.3" filter="url(#bl)"/>
<circle cx="18.48" cy="9.28" r="1.30" fill="#1a3a1a" opacity="0.3" filter="url(#bl)"/>
<circle cx="22.05" cy="11.49" r="1.30" fill="#1a3a1a" opacity="0.3" filter="url(#bl)"/>
<circle cx="25.63" cy="8.40" r="1.20" fill="#1a3a1a" opacity="0.3" filter="url(#bl)"/>
<circle cx="16.69" cy="15.47" r="1.30" fill="#1a3a1a" opacity="0.3" filter="url(#bl)"/>
<circle cx="20.86" cy="16.80" r="1.30" fill="#1a3a1a" opacity="0.3" filter="url(#bl)"/>
<circle cx="24.44" cy="14.59" r="1.20" fill="#1a3a1a" opacity="0.3" filter="url(#bl)"/>
<circle cx="13.41" cy="18.12" r="1.20" fill="#1a3a1a" opacity="0.3" filter="url(#bl)"/>
<circle cx="8.94" cy="19.01" r="1.10" fill="#1a3a1a" opacity="0.3" filter="url(#bl)"/>
<circle cx="3.58" cy="19.89" r="1.10" fill="#1a3a1a" opacity="0.3" filter="url(#bl)"/>
<circle cx="26.82" cy="4.42" r="1.10" fill="#1a3a1a" opacity="0.3" filter="url(#bl)"/>
<circle cx="17.88" cy="4.86" r="1.10" fill="#1a3a1a" opacity="0.3" filter="url(#bl)"/>
<circle cx="5.96" cy="12.16" r="1.10" fill="#1a3a1a" opacity="0.3" filter="url(#bl)"/>
</svg>
<rect x="226.30" y="285.90" width="29.80" height="21.70" fill="#060615" />
<svg x="226.30" y="285.90" width="29.80" height="21.70" overflow="hidden">
<circle cx="2.38" cy="3.26" r="1.20" fill="#4a3cc8" opacity="0.58" filter="url(#bl)"/>
<circle cx="7.45" cy="4.34" r="1.20" fill="#4a3cc8" opacity="0.58" filter="url(#bl)"/>
<circle cx="11.32" cy="9.77" r="1.30" fill="#4a3cc8" opacity="0.58" filter="url(#bl)"/>
<circle cx="14.90" cy="10.85" r="1.30" fill="#4a3cc8" opacity="0.58" filter="url(#bl)"/>
<circle cx="18.48" cy="9.11" r="1.30" fill="#4a3cc8" opacity="0.58" filter="url(#bl)"/>
<circle cx="22.05" cy="11.28" r="1.30" fill="#4a3cc8" opacity="0.58" filter="url(#bl)"/>
<circle cx="25.63" cy="8.25" r="1.20" fill="#4a3cc8" opacity="0.58" filter="url(#bl)"/>
<circle cx="16.69" cy="15.19" r="1.30" fill="#4a3cc8" opacity="0.58" filter="url(#bl)"/>
<circle cx="20.86" cy="16.49" r="1.30" fill="#4a3cc8" opacity="0.58" filter="url(#bl)"/>
<circle cx="24.44" cy="14.32" r="1.20" fill="#4a3cc8" opacity="0.58" filter="url(#bl)"/>
<circle cx="13.41" cy="17.79" r="1.20" fill="#4a3cc8" opacity="0.58" filter="url(#bl)"/>
<circle cx="8.94" cy="18.66" r="1.10" fill="#4a3cc8" opacity="0.58" filter="url(#bl)"/>
<circle cx="3.58" cy="19.53" r="1.10" fill="#4a3cc8" opacity="0.58" filter="url(#bl)"/>
<circle cx="26.82" cy="4.34" r="1.10" fill="#4a3cc8" opacity="0.58" filter="url(#bl)"/>
<circle cx="17.88" cy="4.77" r="1.10" fill="#4a3cc8" opacity="0.58" filter="url(#bl)"/>
<circle cx="5.96" cy="11.94" r="1.10" fill="#4a3cc8" opacity="0.58" filter="url(#bl)"/>
</svg>
<rect x="226.30" y="309.20" width="29.80" height="22.10" fill="#060614" />
<svg x="226.30" y="309.20" width="29.80" height="22.10" overflow="hidden">
<circle cx="2.38" cy="3.32" r="1.20" fill="#3c3ab8" opacity="0.58" filter="url(#bl)"/>
<circle cx="7.45" cy="4.42" r="1.20" fill="#3c3ab8" opacity="0.58" filter="url(#bl)"/>
<circle cx="11.32" cy="9.95" r="1.30" fill="#3c3ab8" opacity="0.58" filter="url(#bl)"/>
<circle cx="14.90" cy="11.05" r="1.30" fill="#3c3ab8" opacity="0.58" filter="url(#bl)"/>
<circle cx="18.48" cy="9.28" r="1.30" fill="#3c3ab8" opacity="0.58" filter="url(#bl)"/>
<circle cx="22.05" cy="11.49" r="1.30" fill="#3c3ab8" opacity="0.58" filter="url(#bl)"/>
<circle cx="25.63" cy="8.40" r="1.20" fill="#3c3ab8" opacity="0.58" filter="url(#bl)"/>
<circle cx="16.69" cy="15.47" r="1.30" fill="#3c3ab8" opacity="0.58" filter="url(#bl)"/>
<circle cx="20.86" cy="16.80" r="1.30" fill="#3c3ab8" opacity="0.58" filter="url(#bl)"/>
<circle cx="24.44" cy="14.59" r="1.20" fill="#3c3ab8" opacity="0.58" filter="url(#bl)"/>
<circle cx="13.41" cy="18.12" r="1.20" fill="#3c3ab8" opacity="0.58" filter="url(#bl)"/>
<circle cx="8.94" cy="19.01" r="1.10" fill="#3c3ab8" opacity="0.58" filter="url(#bl)"/>
<circle cx="3.58" cy="19.89" r="1.10" fill="#3c3ab8" opacity="0.58" filter="url(#bl)"/>
<circle cx="26.82" cy="4.42" r="1.10" fill="#3c3ab8" opacity="0.58" filter="url(#bl)"/>
<circle cx="17.88" cy="4.86" r="1.10" fill="#3c3ab8" opacity="0.58" filter="url(#bl)"/>
<circle cx="5.96" cy="12.16" r="1.10" fill="#3c3ab8" opacity="0.58" filter="url(#bl)"/>
</svg>
<rect x="257.60" y="262.40" width="28.90" height="22.10" fill="#060906" />
<svg x="257.60" y="262.40" width="28.90" height="22.10" overflow="hidden">
<circle cx="9.83" cy="13.26" r="2.40" fill="#1a3a1a" opacity="0.3" filter="url(#bl)"/>
<circle cx="16.18" cy="9.28" r="2.30" fill="#1a3a1a" opacity="0.3" filter="url(#bl)"/>
<circle cx="16.47" cy="16.35" r="2.30" fill="#1a3a1a" opacity="0.3" filter="url(#bl)"/>
<circle cx="13.58" cy="12.16" r="1.60" fill="#1a3a1a" opacity="0.3" filter="url(#bl)"/>
</svg>
<rect x="257.60" y="285.90" width="28.90" height="21.70" fill="#060615" />
<svg x="257.60" y="285.90" width="28.90" height="21.70" overflow="hidden">
<circle cx="9.83" cy="13.02" r="2.40" fill="#4a3cc8" opacity="0.66" filter="url(#bl)"/>
<circle cx="16.18" cy="9.11" r="2.30" fill="#4a3cc8" opacity="0.66" filter="url(#bl)"/>
<circle cx="16.47" cy="16.06" r="2.30" fill="#4a3cc8" opacity="0.66" filter="url(#bl)"/>
<circle cx="13.58" cy="11.94" r="1.60" fill="#4a3cc8" opacity="0.66" filter="url(#bl)"/>
</svg>
<rect x="257.60" y="309.20" width="28.90" height="22.10" fill="#060614" />
<svg x="257.60" y="309.20" width="28.90" height="22.10" overflow="hidden">
<circle cx="9.83" cy="13.26" r="2.40" fill="#3c3ab8" opacity="0.66" filter="url(#bl)"/>
<circle cx="16.18" cy="9.28" r="2.30" fill="#3c3ab8" opacity="0.66" filter="url(#bl)"/>
<circle cx="16.47" cy="16.35" r="2.30" fill="#3c3ab8" opacity="0.66" filter="url(#bl)"/>
<circle cx="13.58" cy="12.16" r="1.60" fill="#3c3ab8" opacity="0.66" filter="url(#bl)"/>
</svg>
<rect x="288.00" y="262.40" width="29.00" height="22.10" fill="#060906" />
<svg x="288.00" y="262.40" width="29.00" height="22.10" overflow="hidden">
<circle cx="8.70" cy="12.82" r="3.50" fill="#1a3a1a" opacity="0.3" filter="url(#bl)"/>
<circle cx="14.50" cy="6.63" r="3.30" fill="#1a3a1a" opacity="0.3" filter="url(#bl)"/>
<circle cx="15.08" cy="15.91" r="3.30" fill="#1a3a1a" opacity="0.3" filter="url(#bl)"/>
<circle cx="1.74" cy="8.84" r="2.00" fill="#1a3a1a" opacity="0.3" filter="url(#bl)"/>
</svg>
<rect x="288.00" y="285.90" width="29.00" height="21.70" fill="#060615" />
<svg x="288.00" y="285.90" width="29.00" height="21.70" overflow="hidden">
<circle cx="8.70" cy="12.59" r="3.50" fill="#4a3cc8" opacity="0.66" filter="url(#bl)"/>
<circle cx="14.50" cy="6.51" r="3.30" fill="#4a3cc8" opacity="0.66" filter="url(#bl)"/>
<circle cx="15.08" cy="15.62" r="3.30" fill="#4a3cc8" opacity="0.66" filter="url(#bl)"/>
<circle cx="1.74" cy="8.68" r="2.00" fill="#4a3cc8" opacity="0.66" filter="url(#bl)"/>
</svg>
<rect x="288.00" y="309.20" width="29.00" height="22.10" fill="#060614" />
<svg x="288.00" y="309.20" width="29.00" height="22.10" overflow="hidden">
<circle cx="8.70" cy="12.82" r="3.50" fill="#3c3ab8" opacity="0.66" filter="url(#bl)"/>
<circle cx="14.50" cy="6.63" r="3.30" fill="#3c3ab8" opacity="0.66" filter="url(#bl)"/>
<circle cx="15.08" cy="15.91" r="3.30" fill="#3c3ab8" opacity="0.66" filter="url(#bl)"/>
<circle cx="1.74" cy="8.84" r="2.00" fill="#3c3ab8" opacity="0.66" filter="url(#bl)"/>
</svg>
<rect x="318.70" y="262.40" width="28.90" height="22.10" fill="#060906" />
<svg x="318.70" y="262.40" width="28.90" height="22.10" overflow="hidden">
<circle cx="15.90" cy="7.29" r="2.10" fill="#1a3a1a" opacity="0.3" filter="url(#bl)"/>
<circle cx="12.72" cy="13.48" r="2.10" fill="#1a3a1a" opacity="0.3" filter="url(#bl)"/>
<circle cx="18.50" cy="15.91" r="2.10" fill="#1a3a1a" opacity="0.3" filter="url(#bl)"/>
<circle cx="23.12" cy="19.23" r="2.00" fill="#1a3a1a" opacity="0.3" filter="url(#bl)"/>
<circle cx="10.98" cy="19.45" r="1.90" fill="#1a3a1a" opacity="0.3" filter="url(#bl)"/>
<circle cx="1.45" cy="9.95" r="2.00" fill="#1a3a1a" opacity="0.3" filter="url(#bl)"/>
</svg>
<rect x="318.70" y="285.90" width="28.90" height="21.70" fill="#060615" />
<svg x="318.70" y="285.90" width="28.90" height="21.70" overflow="hidden">
<circle cx="15.90" cy="7.16" r="2.10" fill="#4a3cc8" opacity="0.66" filter="url(#bl)"/>
<circle cx="12.72" cy="13.24" r="2.10" fill="#4a3cc8" opacity="0.66" filter="url(#bl)"/>
<circle cx="18.50" cy="15.62" r="2.10" fill="#4a3cc8" opacity="0.66" filter="url(#bl)"/>
<circle cx="23.12" cy="18.88" r="2.00" fill="#4a3cc8" opacity="0.66" filter="url(#bl)"/>
<circle cx="10.98" cy="19.10" r="1.90" fill="#4a3cc8" opacity="0.66" filter="url(#bl)"/>
<circle cx="1.45" cy="9.77" r="2.00" fill="#4a3cc8" opacity="0.66" filter="url(#bl)"/>
</svg>
<rect x="318.70" y="309.20" width="28.90" height="22.10" fill="#060614" />
<svg x="318.70" y="309.20" width="28.90" height="22.10" overflow="hidden">
<circle cx="15.90" cy="7.29" r="2.10" fill="#3c3ab8" opacity="0.66" filter="url(#bl)"/>
<circle cx="12.72" cy="13.48" r="2.10" fill="#3c3ab8" opacity="0.66" filter="url(#bl)"/>
<circle cx="18.50" cy="15.91" r="2.10" fill="#3c3ab8" opacity="0.66" filter="url(#bl)"/>
<circle cx="23.12" cy="19.23" r="2.00" fill="#3c3ab8" opacity="0.66" filter="url(#bl)"/>
<circle cx="10.98" cy="19.45" r="1.90" fill="#3c3ab8" opacity="0.66" filter="url(#bl)"/>
<circle cx="1.45" cy="9.95" r="2.00" fill="#3c3ab8" opacity="0.66" filter="url(#bl)"/>
</svg>
<rect x="349.40" y="262.40" width="29.80" height="22.10" fill="#060906" />
<svg x="349.40" y="262.40" width="29.80" height="22.10" overflow="hidden">
<circle cx="4.47" cy="13.26" r="2.30" fill="#3aa83a" opacity="0.8" filter="url(#bl)"/>
<circle cx="9.83" cy="13.26" r="2.40" fill="#3aa83a" opacity="0.8" filter="url(#bl)"/>
<circle cx="15.20" cy="11.49" r="2.50" fill="#3aa83a" opacity="0.8" filter="url(#bl)"/>
<circle cx="19.07" cy="8.84" r="2.40" fill="#3aa83a" opacity="0.8" filter="url(#bl)"/>
<circle cx="23.24" cy="5.30" r="2.30" fill="#3aa83a" opacity="0.8" filter="url(#bl)"/>
<circle cx="19.67" cy="14.59" r="2.40" fill="#3aa83a" opacity="0.8" filter="url(#bl)"/>
<circle cx="17.28" cy="19.23" r="2.30" fill="#3aa83a" opacity="0.8" filter="url(#bl)"/>
</svg>
<rect x="349.40" y="285.90" width="29.80" height="21.70" fill="#060615" />
<svg x="349.40" y="285.90" width="29.80" height="21.70" overflow="hidden">
<circle cx="4.47" cy="13.02" r="2.30" fill="#4a3cc8" opacity="0.66" filter="url(#bl)"/>
<circle cx="9.83" cy="13.02" r="2.40" fill="#4a3cc8" opacity="0.66" filter="url(#bl)"/>
<circle cx="15.20" cy="11.28" r="2.50" fill="#4a3cc8" opacity="0.66" filter="url(#bl)"/>
<circle cx="19.07" cy="8.68" r="2.40" fill="#4a3cc8" opacity="0.66" filter="url(#bl)"/>
<circle cx="23.24" cy="5.21" r="2.30" fill="#4a3cc8" opacity="0.66" filter="url(#bl)"/>
<circle cx="19.67" cy="14.32" r="2.40" fill="#4a3cc8" opacity="0.66" filter="url(#bl)"/>
<circle cx="17.28" cy="18.88" r="2.30" fill="#4a3cc8" opacity="0.66" filter="url(#bl)"/>
</svg>
<rect x="349.40" y="309.20" width="29.80" height="22.10" fill="#060614" />
<svg x="349.40" y="309.20" width="29.80" height="22.10" overflow="hidden">
<circle cx="4.47" cy="13.26" r="2.30" fill="#34a6b4" opacity="0.78" filter="url(#bl)"/>
<circle cx="9.83" cy="13.26" r="2.40" fill="#34a6b4" opacity="0.78" filter="url(#bl)"/>
<circle cx="15.20" cy="11.49" r="2.50" fill="#34a6b4" opacity="0.78" filter="url(#bl)"/>
<circle cx="19.07" cy="8.84" r="2.40" fill="#34a6b4" opacity="0.78" filter="url(#bl)"/>
<circle cx="23.24" cy="5.30" r="2.30" fill="#34a6b4" opacity="0.78" filter="url(#bl)"/>
<circle cx="19.67" cy="14.59" r="2.40" fill="#34a6b4" opacity="0.78" filter="url(#bl)"/>
<circle cx="17.28" cy="19.23" r="2.30" fill="#34a6b4" opacity="0.78" filter="url(#bl)"/>
</svg>
<text x="6.60" y="359.00" font-size="10.5" text-anchor="start" fill="#111" font-weight="bold" >E</text>
<line x1="44.90" y1="393.00" x2="44.90" y2="459.20" stroke="#222" stroke-width="0.9" />
<line x1="44.50" y1="458.80" x2="130.50" y2="458.80" stroke="#222" stroke-width="0.9" />
<line x1="41.90" y1="458.80" x2="44.90" y2="458.80" stroke="#222" stroke-width="0.9" />
<text x="40.60" y="461.50" font-size="7.6" text-anchor="end" fill="#111" font-weight="normal" >0</text>
<line x1="41.90" y1="445.74" x2="44.90" y2="445.74" stroke="#222" stroke-width="0.9" />
<text x="40.60" y="448.44" font-size="7.6" text-anchor="end" fill="#111" font-weight="normal" >20</text>
<line x1="41.90" y1="432.68" x2="44.90" y2="432.68" stroke="#222" stroke-width="0.9" />
<text x="40.60" y="435.38" font-size="7.6" text-anchor="end" fill="#111" font-weight="normal" >40</text>
<line x1="41.90" y1="419.62" x2="44.90" y2="419.62" stroke="#222" stroke-width="0.9" />
<text x="40.60" y="422.32" font-size="7.6" text-anchor="end" fill="#111" font-weight="normal" >60</text>
<line x1="41.90" y1="406.56" x2="44.90" y2="406.56" stroke="#222" stroke-width="0.9" />
<text x="40.60" y="409.26" font-size="7.6" text-anchor="end" fill="#111" font-weight="normal" >80</text>
<line x1="41.90" y1="393.50" x2="44.90" y2="393.50" stroke="#222" stroke-width="0.9" />
<text x="40.60" y="396.20" font-size="7.6" text-anchor="end" fill="#111" font-weight="normal" >100</text>
<line x1="44.90" y1="458.80" x2="44.90" y2="461.80" stroke="#222" stroke-width="0.9" />
<text x="44.90" y="472.40" font-size="7.6" text-anchor="middle" fill="#111" font-weight="normal" >0</text>
<line x1="65.70" y1="458.80" x2="65.70" y2="461.80" stroke="#222" stroke-width="0.9" />
<text x="65.70" y="472.40" font-size="7.6" text-anchor="middle" fill="#111" font-weight="normal" >20</text>
<line x1="86.50" y1="458.80" x2="86.50" y2="461.80" stroke="#222" stroke-width="0.9" />
<text x="86.50" y="472.40" font-size="7.6" text-anchor="middle" fill="#111" font-weight="normal" >40</text>
<line x1="107.30" y1="458.80" x2="107.30" y2="461.80" stroke="#222" stroke-width="0.9" />
<text x="107.30" y="472.40" font-size="7.6" text-anchor="middle" fill="#111" font-weight="normal" >60</text>
<line x1="128.10" y1="458.80" x2="128.10" y2="461.80" stroke="#222" stroke-width="0.9" />
<text x="128.10" y="472.40" font-size="7.6" text-anchor="middle" fill="#111" font-weight="normal" >80</text>
<text class="h" transform="translate(20.40,424.80) rotate(-90) scale(0.7109,1)" font-size="8.8" text-anchor="middle" fill="#111">Percent survival</text>
<text x="88.00" y="372.50" font-size="8.6" text-anchor="middle" fill="#111" font-weight="normal" >UAMS TT2</text>
<text x="130.50" y="388.00" font-size="7.6" text-anchor="end" fill="#111" font-weight="normal" >HR = 2.172</text>
<text x="130.50" y="394.90" font-size="7.6" text-anchor="end" fill="#111" font-weight="normal" >(1.401-3.369)</text>
<text x="130.50" y="401.80" font-size="7.6" text-anchor="end" fill="#111"><tspan font-style="italic">P</tspan> = .0018</text>
<path d="M44.90,393.50 H48.02 H48.83 V393.66 H50.04 V393.83 H51.30 V393.99 H53.22 V394.15 H53.22 H53.82 V394.81 H55.38 V395.46 H57.38 V396.11 H57.38 H58.00 V396.22 H60.13 V396.33 H61.15 V396.44 H62.14 V396.55 H63.77 V396.66 H65.70 V396.76 H65.70 H66.30 V397.09 H68.21 V397.42 H69.23 V397.74 H70.90 V398.07 H70.90 H72.14 V398.33 H73.34 V398.59 H74.77 V398.85 H76.71 V399.12 H78.18 V399.38 H78.18 H79.39 V400.03 H80.72 V400.68 H82.34 V401.34 H82.34 H82.93 V401.66 H84.34 V401.99 H86.12 V402.32 H87.54 V402.64 H87.54 H88.26 V403.08 H90.20 V403.51 H91.70 V403.95 H91.70 H92.52 V404.11 H94.20 V404.27 H95.60 V404.44 H96.90 V404.60 H96.90 H97.64 V404.93 H100.02 V405.25 H100.02 H102.10 V406.56 H102.10 H103.24 V406.72 H104.53 V406.89 H105.23 V407.05 H107.30 V407.21 H107.30 H116.66" stroke="#d3203c" stroke-width="1.15" fill="none" stroke-linejoin="miter"/>
<path d="M44.90,393.50 H45.71 V394.32 H46.92 V395.13 H48.18 V395.95 H50.10 V396.76 H50.10 H50.66 V397.42 H52.12 V398.07 H53.28 V398.72 H55.30 V399.38 H55.30 H56.58 V399.79 H57.54 V400.19 H58.46 V400.60 H59.99 V401.01 H61.10 V401.42 H63.01 V401.83 H64.03 V402.23 H65.70 V402.64 H65.70 H66.88 V403.08 H68.02 V403.51 H69.38 V403.95 H71.24 V404.38 H72.45 V404.82 H74.02 V405.25 H74.02 H75.23 V405.78 H76.13 V406.30 H77.72 V406.82 H79.70 V407.34 H81.30 V407.87 H81.30 H81.98 V408.44 H83.79 V409.01 H84.72 V409.58 H86.40 V410.15 H87.80 V410.72 H88.42 V411.29 H90.24 V411.87 H91.70 V412.44 H91.70 H92.97 V413.22 H93.75 V414.00 H95.31 V414.79 H97.27 V415.57 H98.98 V416.36 H98.98 H99.57 V417.66 H101.30 V418.97 H103.14 V420.27 H103.14 H105.22 V421.58 H105.22 H114.58" stroke="#1f4f8e" stroke-width="1.15" fill="none" stroke-linejoin="miter"/>
<text transform="translate(88.00,484.60) scale(0.7181,1)" font-size="8.8" text-anchor="middle" fill="#111" font-weight="normal" class="h">Survival (month)</text>
<text x="58.20" y="498.60" font-size="7.6" text-anchor="start" fill="#111" font-weight="normal" >Deaths/n</text>
<line x1="51.20" y1="507.60" x2="56.80" y2="507.60" stroke="#1f4f8e" stroke-width="1.0" />
<text x="58.90" y="509.60" font-size="7.5" text-anchor="start" fill="#111" font-weight="normal" >low 66/219 (30.1%)</text>
<line x1="51.20" y1="518.80" x2="56.80" y2="518.80" stroke="#d3203c" stroke-width="1.0" />
<text x="58.90" y="520.80" font-size="7.5" text-anchor="start" fill="#111" font-weight="normal" >high 19/132 (14.4%)</text>
<line x1="173.50" y1="393.70" x2="173.50" y2="458.90" stroke="#222" stroke-width="0.9" />
<line x1="173.10" y1="458.50" x2="258.80" y2="458.50" stroke="#222" stroke-width="0.9" />
<line x1="170.50" y1="458.50" x2="173.50" y2="458.50" stroke="#222" stroke-width="0.9" />
<text x="169.20" y="461.20" font-size="7.6" text-anchor="end" fill="#111" font-weight="normal" >0</text>
<line x1="170.50" y1="445.64" x2="173.50" y2="445.64" stroke="#222" stroke-width="0.9" />
<text x="169.20" y="448.34" font-size="7.6" text-anchor="end" fill="#111" font-weight="normal" >20</text>
<line x1="170.50" y1="432.78" x2="173.50" y2="432.78" stroke="#222" stroke-width="0.9" />
<text x="169.20" y="435.48" font-size="7.6" text-anchor="end" fill="#111" font-weight="normal" >40</text>
<line x1="170.50" y1="419.92" x2="173.50" y2="419.92" stroke="#222" stroke-width="0.9" />
<text x="169.20" y="422.62" font-size="7.6" text-anchor="end" fill="#111" font-weight="normal" >60</text>
<line x1="170.50" y1="407.06" x2="173.50" y2="407.06" stroke="#222" stroke-width="0.9" />
<text x="169.20" y="409.76" font-size="7.6" text-anchor="end" fill="#111" font-weight="normal" >80</text>
<line x1="170.50" y1="394.20" x2="173.50" y2="394.20" stroke="#222" stroke-width="0.9" />
<text x="169.20" y="396.90" font-size="7.6" text-anchor="end" fill="#111" font-weight="normal" >100</text>
<line x1="173.50" y1="458.50" x2="173.50" y2="461.50" stroke="#222" stroke-width="0.9" />
<text x="173.50" y="472.10" font-size="7.6" text-anchor="middle" fill="#111" font-weight="normal" >0</text>
<line x1="197.20" y1="458.50" x2="197.20" y2="461.50" stroke="#222" stroke-width="0.9" />
<text x="197.20" y="472.10" font-size="7.6" text-anchor="middle" fill="#111" font-weight="normal" >20</text>
<line x1="220.90" y1="458.50" x2="220.90" y2="461.50" stroke="#222" stroke-width="0.9" />
<text x="220.90" y="472.10" font-size="7.6" text-anchor="middle" fill="#111" font-weight="normal" >40</text>
<line x1="244.60" y1="458.50" x2="244.60" y2="461.50" stroke="#222" stroke-width="0.9" />
<text x="244.60" y="472.10" font-size="7.6" text-anchor="middle" fill="#111" font-weight="normal" >60</text>
<text class="h" transform="translate(149.20,424.80) rotate(-90) scale(0.7109,1)" font-size="8.8" text-anchor="middle" fill="#111">Percent survival</text>
<text x="216.80" y="371.50" font-size="8.6" text-anchor="middle" fill="#111" font-weight="normal" >IA11</text>
<text x="258.80" y="388.00" font-size="7.6" text-anchor="end" fill="#111" font-weight="normal" >HR = 1.562</text>
<text x="258.80" y="394.90" font-size="7.6" text-anchor="end" fill="#111" font-weight="normal" >(1.017-2.317)</text>
<text x="258.80" y="401.80" font-size="7.6" text-anchor="end" fill="#111"><tspan font-style="italic">P</tspan> = .0212</text>
<path d="M173.50,394.20 H174.43 V394.52 H175.80 V394.84 H177.24 V395.16 H179.43 V395.49 H179.43 H180.07 V395.97 H181.73 V396.45 H183.05 V396.93 H185.35 V397.41 H185.35 H186.81 V397.90 H187.90 V398.38 H188.96 V398.86 H191.28 V399.34 H191.28 H192.18 V399.83 H193.44 V400.31 H195.62 V400.79 H197.20 V401.27 H197.20 H198.26 V401.92 H199.94 V402.56 H201.16 V403.20 H203.12 V403.84 H203.12 H204.10 V404.17 H206.08 V404.49 H207.38 V404.81 H209.05 V405.13 H209.05 H210.28 V405.61 H211.20 V406.10 H212.81 V406.58 H214.97 V407.06 H214.97 H216.58 V408.02 H218.53 V408.99 H218.53 H220.90 V409.63 H220.90 H221.67 V409.79 H223.74 V409.95 H224.79 V410.11 H226.82 V410.27 H226.82 H236.31 H236.90 V412.85 H238.08 V416.06 H239.27 V419.92 H239.86 V421.85 H239.86 H242.23" stroke="#d3203c" stroke-width="1.15" fill="none" stroke-linejoin="miter"/>
<path d="M173.50,394.20 H174.43 V394.84 H175.80 V395.49 H177.24 V396.13 H179.43 V396.77 H179.43 H180.07 V397.41 H181.73 V398.06 H183.05 V398.70 H185.35 V399.34 H185.35 H186.81 V400.15 H187.90 V400.95 H188.96 V401.76 H191.28 V402.56 H191.28 H192.18 V403.68 H193.44 V404.81 H195.62 V405.93 H197.20 V407.06 H197.20 H198.48 V407.70 H200.75 V408.35 H200.75 H202.27 V408.99 H204.31 V409.63 H204.31 H206.68 V412.20 H206.68 H209.05 V413.49 H209.05 H210.25 V414.45 H212.61 V415.42 H212.61 H213.77 V416.38 H216.16 V417.35 H216.16 H217.92 V417.99 H219.72 V418.63 H219.72 H237.49" stroke="#1f4f8e" stroke-width="1.15" fill="none" stroke-linejoin="miter"/>
<text transform="translate(216.80,484.60) scale(0.7181,1)" font-size="8.8" text-anchor="middle" fill="#111" font-weight="normal" class="h">Survival (month)</text>
<text x="187.40" y="498.60" font-size="7.6" text-anchor="start" fill="#111" font-weight="normal" >Deaths/n</text>
<line x1="180.40" y1="507.60" x2="186.00" y2="507.60" stroke="#1f4f8e" stroke-width="1.0" />
<text x="188.10" y="509.60" font-size="7.5" text-anchor="start" fill="#111" font-weight="normal" >Low 37/133 (27.8%)</text>
<line x1="180.40" y1="518.80" x2="186.00" y2="518.80" stroke="#d3203c" stroke-width="1.0" />
<text x="188.10" y="520.80" font-size="7.5" text-anchor="start" fill="#111" font-weight="normal" >High 89/514 (5.8%)</text>
<line x1="300.80" y1="393.40" x2="300.80" y2="458.90" stroke="#222" stroke-width="0.9" />
<line x1="300.40" y1="458.50" x2="386.50" y2="458.50" stroke="#222" stroke-width="0.9" />
<line x1="297.80" y1="458.50" x2="300.80" y2="458.50" stroke="#222" stroke-width="0.9" />
<text x="296.50" y="461.20" font-size="7.6" text-anchor="end" fill="#111" font-weight="normal" >0</text>
<line x1="297.80" y1="445.58" x2="300.80" y2="445.58" stroke="#222" stroke-width="0.9" />
<text x="296.50" y="448.28" font-size="7.6" text-anchor="end" fill="#111" font-weight="normal" >20</text>
<line x1="297.80" y1="432.66" x2="300.80" y2="432.66" stroke="#222" stroke-width="0.9" />
<text x="296.50" y="435.36" font-size="7.6" text-anchor="end" fill="#111" font-weight="normal" >40</text>
<line x1="297.80" y1="419.74" x2="300.80" y2="419.74" stroke="#222" stroke-width="0.9" />
<text x="296.50" y="422.44" font-size="7.6" text-anchor="end" fill="#111" font-weight="normal" >60</text>
<line x1="297.80" y1="406.82" x2="300.80" y2="406.82" stroke="#222" stroke-width="0.9" />
<text x="296.50" y="409.52" font-size="7.6" text-anchor="end" fill="#111" font-weight="normal" >80</text>
<line x1="297.80" y1="393.90" x2="300.80" y2="393.90" stroke="#222" stroke-width="0.9" />
<text x="296.50" y="396.60" font-size="7.6" text-anchor="end" fill="#111" font-weight="normal" >100</text>
<line x1="300.80" y1="458.50" x2="300.80" y2="461.50" stroke="#222" stroke-width="0.9" />
<text x="300.80" y="472.10" font-size="7.6" text-anchor="middle" fill="#111" font-weight="normal" >0</text>
<line x1="321.60" y1="458.50" x2="321.60" y2="461.50" stroke="#222" stroke-width="0.9" />
<text x="321.60" y="472.10" font-size="7.6" text-anchor="middle" fill="#111" font-weight="normal" >10</text>
<line x1="342.40" y1="458.50" x2="342.40" y2="461.50" stroke="#222" stroke-width="0.9" />
<text x="342.40" y="472.10" font-size="7.6" text-anchor="middle" fill="#111" font-weight="normal" >20</text>
<line x1="363.20" y1="458.50" x2="363.20" y2="461.50" stroke="#222" stroke-width="0.9" />
<text x="363.20" y="472.10" font-size="7.6" text-anchor="middle" fill="#111" font-weight="normal" >30</text>
<line x1="384.00" y1="458.50" x2="384.00" y2="461.50" stroke="#222" stroke-width="0.9" />
<text x="384.00" y="472.10" font-size="7.6" text-anchor="middle" fill="#111" font-weight="normal" >40</text>
<text class="h" transform="translate(276.40,424.80) rotate(-90) scale(0.7109,1)" font-size="8.8" text-anchor="middle" fill="#111">Percent survival</text>
<text x="343.20" y="372.20" font-size="8.6" text-anchor="middle" fill="#111" font-weight="normal" >APEX</text>
<text x="385.50" y="388.00" font-size="7.6" text-anchor="end" fill="#111" font-weight="normal" >HR = 2.117</text>
<text x="385.50" y="394.90" font-size="7.6" text-anchor="end" fill="#111" font-weight="normal" >(1.540-2.908)</text>
<text x="385.50" y="401.80" font-size="7.6" text-anchor="end" fill="#111"><tspan font-style="italic">P</tspan> = 5.1E-06</text>
<path d="M300.80,393.90 H304.96 H306.26 V395.19 H308.19 V396.48 H311.20 V397.78 H311.20 H312.29 V399.50 H314.18 V401.22 H317.44 V402.94 H317.44 H318.60 V405.53 H321.60 V408.11 H321.60 H322.34 V409.15 H324.90 V410.18 H326.13 V411.21 H327.31 V412.25 H329.92 V413.28 H329.92 H330.94 V413.93 H332.35 V414.57 H334.80 V415.22 H336.11 V415.86 H338.24 V416.51 H338.24 H340.01 V417.16 H341.72 V417.80 H344.48 V418.45 H344.48 H345.84 V420.39 H348.64 V422.32 H348.64 H350.29 V422.58 H351.75 V422.84 H353.35 V423.10 H354.38 V423.36 H356.96 V423.62 H356.96 H357.86 V423.83 H360.13 V424.05 H361.16 V424.26 H363.48 V424.48 H364.66 V424.69 H366.94 V424.91 H366.94 V432.66 H378.80" stroke="#d3203c" stroke-width="1.15" fill="none" stroke-linejoin="miter"/>
<path d="M300.80,393.90 H302.88 H303.75 V396.48 H305.04 V399.07 H307.04 V401.65 H307.04 H307.69 V403.33 H308.83 V405.01 H310.23 V406.69 H311.34 V408.37 H313.28 V410.05 H313.28 H314.51 V411.73 H315.43 V413.41 H316.32 V415.09 H317.79 V416.77 H319.52 V418.45 H319.52 H320.09 V419.74 H321.93 V421.03 H322.91 V422.32 H324.33 V423.62 H325.76 V424.91 H325.76 H326.60 V425.68 H327.83 V426.46 H329.49 V427.23 H330.59 V428.01 H332.00 V428.78 H332.00 H333.04 V429.56 H333.81 V430.33 H335.17 V431.11 H336.87 V431.88 H338.24 V432.66 H338.24 H338.89 V433.05 H340.63 V433.44 H341.52 V433.82 H343.14 V434.21 H344.48 V434.60 H344.48 H345.87 V436.11 H346.53 V437.61 H348.64 V439.12 H348.64 H349.73 V439.77 H350.97 V440.41 H351.65 V441.06 H352.98 V441.70 H354.88 V442.35 H354.88 H355.91 V442.74 H356.66 V443.13 H358.22 V443.51 H359.36 V443.90 H361.12 V444.29 H361.12 H362.26 V444.61 H362.99 V444.93 H364.48 V445.26 H366.32 V445.58 H366.32 H366.94 V448.16 H366.94 H378.80" stroke="#1f4f8e" stroke-width="1.15" fill="none" stroke-linejoin="miter"/>
<text transform="translate(343.20,484.60) scale(0.7181,1)" font-size="8.8" text-anchor="middle" fill="#111" font-weight="normal" class="h">Survival (month)</text>
<text x="313.80" y="498.60" font-size="7.6" text-anchor="start" fill="#111" font-weight="normal" >Deaths/n</text>
<line x1="306.80" y1="507.60" x2="312.40" y2="507.60" stroke="#1f4f8e" stroke-width="1.0" />
<text x="314.50" y="509.60" font-size="7.5" text-anchor="start" fill="#111" font-weight="normal" >low 99/143 (69.2%)</text>
<line x1="306.80" y1="518.80" x2="312.40" y2="518.80" stroke="#d3203c" stroke-width="1.0" />
<text x="314.50" y="520.80" font-size="7.5" text-anchor="start" fill="#111" font-weight="normal" >high 54/121 (44.6%)</text>
<text x="400.40" y="213.50" font-size="10.5" text-anchor="start" fill="#111" font-weight="bold" >F</text>
<line x1="430.60" y1="247.90" x2="430.60" y2="313.50" stroke="#222" stroke-width="0.9" />
<line x1="427.60" y1="248.54" x2="430.60" y2="248.54" stroke="#222" stroke-width="0.9" />
<text x="425.30" y="251.04" font-size="7.5" text-anchor="end" fill="#111" font-weight="normal" >12</text>
<line x1="427.60" y1="262.88" x2="430.60" y2="262.88" stroke="#222" stroke-width="0.9" />
<text x="425.30" y="265.38" font-size="7.5" text-anchor="end" fill="#111" font-weight="normal" >10</text>
<line x1="427.60" y1="277.22" x2="430.60" y2="277.22" stroke="#222" stroke-width="0.9" />
<text x="425.30" y="279.72" font-size="7.5" text-anchor="end" fill="#111" font-weight="normal" >8</text>
<line x1="427.60" y1="291.56" x2="430.60" y2="291.56" stroke="#222" stroke-width="0.9" />
<text x="425.30" y="294.06" font-size="7.5" text-anchor="end" fill="#111" font-weight="normal" >6</text>
<line x1="427.60" y1="305.90" x2="430.60" y2="305.90" stroke="#222" stroke-width="0.9" />
<text x="425.30" y="308.40" font-size="7.5" text-anchor="end" fill="#111" font-weight="normal" >4</text>
<line x1="430.60" y1="313.10" x2="513.70" y2="313.10" stroke="#222" stroke-width="0.9" />
<line x1="436.30" y1="313.10" x2="436.30" y2="316.00" stroke="#222" stroke-width="0.9" />
<line x1="448.20" y1="313.10" x2="448.20" y2="316.00" stroke="#222" stroke-width="0.9" />
<line x1="459.70" y1="313.10" x2="459.70" y2="316.00" stroke="#222" stroke-width="0.9" />
<line x1="471.20" y1="313.10" x2="471.20" y2="316.00" stroke="#222" stroke-width="0.9" />
<line x1="483.00" y1="313.10" x2="483.00" y2="316.00" stroke="#222" stroke-width="0.9" />
<line x1="494.80" y1="313.10" x2="494.80" y2="316.00" stroke="#222" stroke-width="0.9" />
<line x1="506.60" y1="313.10" x2="506.60" y2="316.00" stroke="#222" stroke-width="0.9" />
<text class="h" transform="translate(408.20,279.00) rotate(-90) scale(0.7299,1)" font-size="8.8" text-anchor="middle" fill="#111">CTBP2 expression (log<tspan font-size="5.72" dy="1.6">2</tspan><tspan dy="-1.6">)</tspan></text>
<circle cx="436.73" cy="263.20" r="0.8" fill="#255a9a"/>
<circle cx="436.05" cy="263.87" r="0.8" fill="#255a9a"/>
<circle cx="436.93" cy="264.13" r="0.8" fill="#255a9a"/>
<circle cx="436.39" cy="264.43" r="0.8" fill="#255a9a"/>
<circle cx="438.41" cy="265.08" r="0.8" fill="#255a9a"/>
<circle cx="434.88" cy="265.29" r="0.8" fill="#255a9a"/>
<circle cx="438.53" cy="265.74" r="0.8" fill="#255a9a"/>
<circle cx="433.00" cy="266.46" r="0.8" fill="#255a9a"/>
<circle cx="439.65" cy="267.04" r="0.8" fill="#255a9a"/>
<circle cx="437.13" cy="267.34" r="0.8" fill="#255a9a"/>
<circle cx="432.81" cy="267.57" r="0.8" fill="#255a9a"/>
<circle cx="433.13" cy="268.19" r="0.8" fill="#255a9a"/>
<circle cx="434.44" cy="268.49" r="0.8" fill="#255a9a"/>
<circle cx="436.04" cy="268.86" r="0.8" fill="#255a9a"/>
<circle cx="438.77" cy="269.50" r="0.8" fill="#255a9a"/>
<circle cx="437.31" cy="269.98" r="0.8" fill="#255a9a"/>
<circle cx="437.47" cy="270.42" r="0.8" fill="#255a9a"/>
<circle cx="434.70" cy="270.86" r="0.8" fill="#255a9a"/>
<circle cx="439.87" cy="271.55" r="0.8" fill="#255a9a"/>
<circle cx="437.80" cy="271.93" r="0.8" fill="#255a9a"/>
<circle cx="434.35" cy="272.14" r="0.8" fill="#255a9a"/>
<circle cx="433.21" cy="272.58" r="0.8" fill="#255a9a"/>
<circle cx="435.58" cy="273.24" r="0.8" fill="#255a9a"/>
<circle cx="435.48" cy="273.73" r="0.8" fill="#255a9a"/>
<circle cx="438.80" cy="274.23" r="0.8" fill="#255a9a"/>
<circle cx="434.21" cy="274.25" r="0.8" fill="#255a9a"/>
<circle cx="436.08" cy="275.11" r="0.8" fill="#255a9a"/>
<circle cx="435.56" cy="275.59" r="0.8" fill="#255a9a"/>
<circle cx="437.23" cy="275.63" r="0.8" fill="#255a9a"/>
<circle cx="434.64" cy="276.40" r="0.8" fill="#255a9a"/>
<circle cx="435.09" cy="276.54" r="0.8" fill="#255a9a"/>
<circle cx="438.16" cy="277.38" r="0.8" fill="#255a9a"/>
<circle cx="434.47" cy="277.45" r="0.8" fill="#255a9a"/>
<circle cx="433.13" cy="277.90" r="0.8" fill="#255a9a"/>
<circle cx="433.98" cy="278.66" r="0.8" fill="#255a9a"/>
<circle cx="435.92" cy="279.00" r="0.8" fill="#255a9a"/>
<circle cx="437.97" cy="279.29" r="0.8" fill="#255a9a"/>
<circle cx="437.33" cy="279.71" r="0.8" fill="#255a9a"/>
<circle cx="435.73" cy="280.15" r="0.8" fill="#255a9a"/>
<circle cx="434.64" cy="280.65" r="0.8" fill="#255a9a"/>
<circle cx="437.76" cy="282.34" r="0.8" fill="#255a9a"/>
<circle cx="438.15" cy="282.79" r="0.8" fill="#255a9a"/>
<circle cx="435.79" cy="284.04" r="0.8" fill="#255a9a"/>
<circle cx="436.98" cy="286.30" r="0.8" fill="#255a9a"/>
<circle cx="438.65" cy="286.64" r="0.8" fill="#255a9a"/>
<circle cx="435.14" cy="288.17" r="0.8" fill="#255a9a"/>
<circle cx="435.48" cy="290.31" r="0.8" fill="#255a9a"/>
<circle cx="434.25" cy="291.03" r="0.8" fill="#255a9a"/>
<circle cx="448.25" cy="261.32" r="0.8" fill="#cf1030"/>
<circle cx="448.28" cy="261.53" r="0.8" fill="#cf1030"/>
<circle cx="448.15" cy="261.75" r="0.8" fill="#cf1030"/>
<circle cx="448.18" cy="262.05" r="0.8" fill="#cf1030"/>
<circle cx="448.71" cy="262.16" r="0.8" fill="#cf1030"/>
<circle cx="447.68" cy="262.28" r="0.8" fill="#cf1030"/>
<circle cx="448.77" cy="262.60" r="0.8" fill="#cf1030"/>
<circle cx="447.62" cy="262.67" r="0.8" fill="#cf1030"/>
<circle cx="449.13" cy="262.95" r="0.8" fill="#cf1030"/>
<circle cx="449.19" cy="263.04" r="0.8" fill="#cf1030"/>
<circle cx="448.46" cy="263.35" r="0.8" fill="#cf1030"/>
<circle cx="447.18" cy="263.46" r="0.8" fill="#cf1030"/>
<circle cx="449.45" cy="263.57" r="0.8" fill="#cf1030"/>
<circle cx="448.79" cy="263.80" r="0.8" fill="#cf1030"/>
<circle cx="449.20" cy="263.99" r="0.8" fill="#cf1030"/>
<circle cx="447.52" cy="264.24" r="0.8" fill="#cf1030"/>
<circle cx="448.95" cy="264.35" r="0.8" fill="#cf1030"/>
<circle cx="447.23" cy="264.52" r="0.8" fill="#cf1030"/>
<circle cx="449.55" cy="264.80" r="0.8" fill="#cf1030"/>
<circle cx="447.32" cy="265.00" r="0.8" fill="#cf1030"/>
<circle cx="446.95" cy="265.25" r="0.8" fill="#cf1030"/>
<circle cx="447.22" cy="265.27" r="0.8" fill="#cf1030"/>
<circle cx="446.22" cy="265.54" r="0.8" fill="#cf1030"/>
<circle cx="447.59" cy="265.67" r="0.8" fill="#cf1030"/>
<circle cx="446.40" cy="265.94" r="0.8" fill="#cf1030"/>
<circle cx="450.16" cy="266.09" r="0.8" fill="#cf1030"/>
<circle cx="449.03" cy="266.39" r="0.8" fill="#cf1030"/>
<circle cx="448.66" cy="266.53" r="0.8" fill="#cf1030"/>
<circle cx="445.65" cy="266.61" r="0.8" fill="#cf1030"/>
<circle cx="450.52" cy="266.78" r="0.8" fill="#cf1030"/>
<circle cx="450.95" cy="267.09" r="0.8" fill="#cf1030"/>
<circle cx="449.02" cy="267.15" r="0.8" fill="#cf1030"/>
<circle cx="449.64" cy="267.43" r="0.8" fill="#cf1030"/>
<circle cx="451.39" cy="267.59" r="0.8" fill="#cf1030"/>
<circle cx="448.50" cy="267.73" r="0.8" fill="#cf1030"/>
<circle cx="450.93" cy="268.04" r="0.8" fill="#cf1030"/>
<circle cx="449.62" cy="268.23" r="0.8" fill="#cf1030"/>
<circle cx="451.18" cy="268.43" r="0.8" fill="#cf1030"/>
<circle cx="449.55" cy="268.54" r="0.8" fill="#cf1030"/>
<circle cx="451.00" cy="268.83" r="0.8" fill="#cf1030"/>
<circle cx="450.42" cy="268.93" r="0.8" fill="#cf1030"/>
<circle cx="448.77" cy="269.20" r="0.8" fill="#cf1030"/>
<circle cx="447.26" cy="269.34" r="0.8" fill="#cf1030"/>
<circle cx="449.09" cy="269.52" r="0.8" fill="#cf1030"/>
<circle cx="449.35" cy="269.62" r="0.8" fill="#cf1030"/>
<circle cx="451.47" cy="269.98" r="0.8" fill="#cf1030"/>
<circle cx="447.23" cy="270.12" r="0.8" fill="#cf1030"/>
<circle cx="448.92" cy="270.31" r="0.8" fill="#cf1030"/>
<circle cx="451.25" cy="270.44" r="0.8" fill="#cf1030"/>
<circle cx="450.49" cy="270.56" r="0.8" fill="#cf1030"/>
<circle cx="449.14" cy="270.74" r="0.8" fill="#cf1030"/>
<circle cx="445.62" cy="271.01" r="0.8" fill="#cf1030"/>
<circle cx="448.17" cy="271.24" r="0.8" fill="#cf1030"/>
<circle cx="452.37" cy="271.42" r="0.8" fill="#cf1030"/>
<circle cx="443.31" cy="271.54" r="0.8" fill="#cf1030"/>
<circle cx="449.98" cy="271.74" r="0.8" fill="#cf1030"/>
<circle cx="444.90" cy="271.91" r="0.8" fill="#cf1030"/>
<circle cx="449.80" cy="272.23" r="0.8" fill="#cf1030"/>
<circle cx="452.12" cy="272.33" r="0.8" fill="#cf1030"/>
<circle cx="449.86" cy="272.50" r="0.8" fill="#cf1030"/>
<circle cx="447.51" cy="272.66" r="0.8" fill="#cf1030"/>
<circle cx="452.34" cy="272.96" r="0.8" fill="#cf1030"/>
<circle cx="447.65" cy="274.90" r="0.8" fill="#cf1030"/>
<circle cx="447.32" cy="276.02" r="0.8" fill="#cf1030"/>
<circle cx="448.18" cy="276.90" r="0.8" fill="#cf1030"/>
<circle cx="449.87" cy="279.62" r="0.8" fill="#cf1030"/>
<circle cx="450.36" cy="281.01" r="0.8" fill="#cf1030"/>
<circle cx="446.61" cy="281.91" r="0.8" fill="#cf1030"/>
<circle cx="447.12" cy="283.78" r="0.8" fill="#cf1030"/>
<circle cx="447.79" cy="285.00" r="0.8" fill="#cf1030"/>
<circle cx="448.17" cy="287.25" r="0.8" fill="#cf1030"/>
<circle cx="449.83" cy="288.35" r="0.8" fill="#cf1030"/>
<circle cx="447.97" cy="291.00" r="0.8" fill="#cf1030"/>
<circle cx="445.95" cy="291.15" r="0.8" fill="#cf1030"/>
<circle cx="446.00" cy="294.02" r="0.8" fill="#cf1030"/>
<circle cx="448.54" cy="295.35" r="0.8" fill="#cf1030"/>
<circle cx="449.60" cy="296.31" r="0.8" fill="#cf1030"/>
<circle cx="446.45" cy="297.44" r="0.8" fill="#cf1030"/>
<circle cx="459.38" cy="257.41" r="0.8" fill="#38a34a"/>
<circle cx="459.47" cy="257.74" r="0.8" fill="#38a34a"/>
<circle cx="459.28" cy="257.81" r="0.8" fill="#38a34a"/>
<circle cx="459.64" cy="258.16" r="0.8" fill="#38a34a"/>
<circle cx="459.91" cy="258.40" r="0.8" fill="#38a34a"/>
<circle cx="460.39" cy="258.68" r="0.8" fill="#38a34a"/>
<circle cx="459.20" cy="258.89" r="0.8" fill="#38a34a"/>
<circle cx="459.13" cy="259.08" r="0.8" fill="#38a34a"/>
<circle cx="459.65" cy="259.21" r="0.8" fill="#38a34a"/>
<circle cx="459.02" cy="259.61" r="0.8" fill="#38a34a"/>
<circle cx="459.36" cy="259.74" r="0.8" fill="#38a34a"/>
<circle cx="459.75" cy="260.08" r="0.8" fill="#38a34a"/>
<circle cx="460.36" cy="260.30" r="0.8" fill="#38a34a"/>
<circle cx="460.49" cy="260.49" r="0.8" fill="#38a34a"/>
<circle cx="458.48" cy="260.85" r="0.8" fill="#38a34a"/>
<circle cx="460.39" cy="261.09" r="0.8" fill="#38a34a"/>
<circle cx="459.55" cy="261.14" r="0.8" fill="#38a34a"/>
<circle cx="461.08" cy="261.49" r="0.8" fill="#38a34a"/>
<circle cx="459.94" cy="261.67" r="0.8" fill="#38a34a"/>
<circle cx="460.81" cy="262.03" r="0.8" fill="#38a34a"/>
<circle cx="459.56" cy="262.28" r="0.8" fill="#38a34a"/>
<circle cx="458.52" cy="262.45" r="0.8" fill="#38a34a"/>
<circle cx="461.03" cy="262.71" r="0.8" fill="#38a34a"/>
<circle cx="460.64" cy="262.92" r="0.8" fill="#38a34a"/>
<circle cx="461.47" cy="263.06" r="0.8" fill="#38a34a"/>
<circle cx="461.94" cy="263.48" r="0.8" fill="#38a34a"/>
<circle cx="461.09" cy="263.61" r="0.8" fill="#38a34a"/>
<circle cx="461.71" cy="263.80" r="0.8" fill="#38a34a"/>
<circle cx="458.92" cy="264.16" r="0.8" fill="#38a34a"/>
<circle cx="459.39" cy="264.22" r="0.8" fill="#38a34a"/>
<circle cx="461.15" cy="264.57" r="0.8" fill="#38a34a"/>
<circle cx="457.08" cy="264.79" r="0.8" fill="#38a34a"/>
<circle cx="457.19" cy="265.10" r="0.8" fill="#38a34a"/>
<circle cx="457.76" cy="265.34" r="0.8" fill="#38a34a"/>
<circle cx="461.43" cy="265.47" r="0.8" fill="#38a34a"/>
<circle cx="457.55" cy="265.66" r="0.8" fill="#38a34a"/>
<circle cx="461.12" cy="265.99" r="0.8" fill="#38a34a"/>
<circle cx="460.94" cy="266.30" r="0.8" fill="#38a34a"/>
<circle cx="459.65" cy="266.56" r="0.8" fill="#38a34a"/>
<circle cx="456.85" cy="266.80" r="0.8" fill="#38a34a"/>
<circle cx="459.88" cy="266.87" r="0.8" fill="#38a34a"/>
<circle cx="461.33" cy="267.12" r="0.8" fill="#38a34a"/>
<circle cx="459.87" cy="267.44" r="0.8" fill="#38a34a"/>
<circle cx="460.15" cy="267.73" r="0.8" fill="#38a34a"/>
<circle cx="458.80" cy="267.84" r="0.8" fill="#38a34a"/>
<circle cx="462.83" cy="268.21" r="0.8" fill="#38a34a"/>
<circle cx="462.46" cy="268.29" r="0.8" fill="#38a34a"/>
<circle cx="459.90" cy="268.71" r="0.8" fill="#38a34a"/>
<circle cx="457.23" cy="268.85" r="0.8" fill="#38a34a"/>
<circle cx="459.73" cy="269.08" r="0.8" fill="#38a34a"/>
<circle cx="455.65" cy="269.34" r="0.8" fill="#38a34a"/>
<circle cx="459.84" cy="269.66" r="0.8" fill="#38a34a"/>
<circle cx="462.36" cy="269.76" r="0.8" fill="#38a34a"/>
<circle cx="459.62" cy="270.04" r="0.8" fill="#38a34a"/>
<circle cx="455.70" cy="270.31" r="0.8" fill="#38a34a"/>
<circle cx="458.89" cy="270.51" r="0.8" fill="#38a34a"/>
<circle cx="463.75" cy="270.85" r="0.8" fill="#38a34a"/>
<circle cx="459.44" cy="270.92" r="0.8" fill="#38a34a"/>
<circle cx="459.05" cy="271.13" r="0.8" fill="#38a34a"/>
<circle cx="463.71" cy="271.53" r="0.8" fill="#38a34a"/>
<circle cx="457.87" cy="271.69" r="0.8" fill="#38a34a"/>
<circle cx="460.88" cy="271.86" r="0.8" fill="#38a34a"/>
<circle cx="455.99" cy="272.27" r="0.8" fill="#38a34a"/>
<circle cx="454.93" cy="272.47" r="0.8" fill="#38a34a"/>
<circle cx="456.97" cy="272.57" r="0.8" fill="#38a34a"/>
<circle cx="457.92" cy="272.93" r="0.8" fill="#38a34a"/>
<circle cx="460.27" cy="273.95" r="0.8" fill="#38a34a"/>
<circle cx="460.81" cy="274.91" r="0.8" fill="#38a34a"/>
<circle cx="459.75" cy="276.21" r="0.8" fill="#38a34a"/>
<circle cx="458.25" cy="277.64" r="0.8" fill="#38a34a"/>
<circle cx="459.40" cy="279.28" r="0.8" fill="#38a34a"/>
<circle cx="459.28" cy="280.35" r="0.8" fill="#38a34a"/>
<circle cx="458.07" cy="281.82" r="0.8" fill="#38a34a"/>
<circle cx="460.33" cy="282.69" r="0.8" fill="#38a34a"/>
<circle cx="459.84" cy="284.51" r="0.8" fill="#38a34a"/>
<circle cx="460.24" cy="286.06" r="0.8" fill="#38a34a"/>
<circle cx="458.42" cy="287.34" r="0.8" fill="#38a34a"/>
<circle cx="461.19" cy="288.47" r="0.8" fill="#38a34a"/>
<circle cx="458.82" cy="289.95" r="0.8" fill="#38a34a"/>
<circle cx="461.73" cy="290.48" r="0.8" fill="#38a34a"/>
<circle cx="462.09" cy="291.63" r="0.8" fill="#38a34a"/>
<circle cx="457.94" cy="293.76" r="0.8" fill="#38a34a"/>
<circle cx="460.79" cy="294.21" r="0.8" fill="#38a34a"/>
<circle cx="457.77" cy="295.51" r="0.8" fill="#38a34a"/>
<circle cx="459.32" cy="297.51" r="0.8" fill="#38a34a"/>
<circle cx="457.90" cy="298.73" r="0.8" fill="#38a34a"/>
<circle cx="471.31" cy="258.40" r="0.8" fill="#4d2080"/>
<circle cx="471.02" cy="259.02" r="0.8" fill="#4d2080"/>
<circle cx="471.45" cy="260.68" r="0.8" fill="#4d2080"/>
<circle cx="468.12" cy="263.71" r="0.8" fill="#4d2080"/>
<circle cx="473.27" cy="263.83" r="0.8" fill="#4d2080"/>
<circle cx="472.69" cy="264.04" r="0.8" fill="#4d2080"/>
<circle cx="467.76" cy="264.19" r="0.8" fill="#4d2080"/>
<circle cx="467.50" cy="264.39" r="0.8" fill="#4d2080"/>
<circle cx="471.32" cy="264.70" r="0.8" fill="#4d2080"/>
<circle cx="468.37" cy="264.92" r="0.8" fill="#4d2080"/>
<circle cx="468.83" cy="265.05" r="0.8" fill="#4d2080"/>
<circle cx="475.12" cy="265.41" r="0.8" fill="#4d2080"/>
<circle cx="467.96" cy="265.64" r="0.8" fill="#4d2080"/>
<circle cx="474.81" cy="265.67" r="0.8" fill="#4d2080"/>
<circle cx="473.32" cy="265.97" r="0.8" fill="#4d2080"/>
<circle cx="470.94" cy="266.16" r="0.8" fill="#4d2080"/>
<circle cx="470.64" cy="266.42" r="0.8" fill="#4d2080"/>
<circle cx="467.31" cy="266.65" r="0.8" fill="#4d2080"/>
<circle cx="473.95" cy="266.89" r="0.8" fill="#4d2080"/>
<circle cx="470.83" cy="266.99" r="0.8" fill="#4d2080"/>
<circle cx="470.44" cy="267.33" r="0.8" fill="#4d2080"/>
<circle cx="468.52" cy="267.43" r="0.8" fill="#4d2080"/>
<circle cx="467.32" cy="267.71" r="0.8" fill="#4d2080"/>
<circle cx="473.61" cy="268.01" r="0.8" fill="#4d2080"/>
<circle cx="474.09" cy="268.19" r="0.8" fill="#4d2080"/>
<circle cx="470.44" cy="268.39" r="0.8" fill="#4d2080"/>
<circle cx="471.23" cy="268.60" r="0.8" fill="#4d2080"/>
<circle cx="473.64" cy="268.89" r="0.8" fill="#4d2080"/>
<circle cx="474.49" cy="268.95" r="0.8" fill="#4d2080"/>
<circle cx="473.42" cy="269.27" r="0.8" fill="#4d2080"/>
<circle cx="470.45" cy="269.51" r="0.8" fill="#4d2080"/>
<circle cx="474.24" cy="269.74" r="0.8" fill="#4d2080"/>
<circle cx="473.34" cy="269.91" r="0.8" fill="#4d2080"/>
<circle cx="470.45" cy="270.14" r="0.8" fill="#4d2080"/>
<circle cx="467.76" cy="270.35" r="0.8" fill="#4d2080"/>
<circle cx="470.95" cy="270.48" r="0.8" fill="#4d2080"/>
<circle cx="470.05" cy="270.63" r="0.8" fill="#4d2080"/>
<circle cx="472.19" cy="270.98" r="0.8" fill="#4d2080"/>
<circle cx="474.76" cy="271.11" r="0.8" fill="#4d2080"/>
<circle cx="469.90" cy="271.42" r="0.8" fill="#4d2080"/>
<circle cx="471.76" cy="271.63" r="0.8" fill="#4d2080"/>
<circle cx="470.32" cy="271.82" r="0.8" fill="#4d2080"/>
<circle cx="472.34" cy="272.14" r="0.8" fill="#4d2080"/>
<circle cx="473.29" cy="272.29" r="0.8" fill="#4d2080"/>
<circle cx="467.38" cy="272.56" r="0.8" fill="#4d2080"/>
<circle cx="473.11" cy="272.70" r="0.8" fill="#4d2080"/>
<circle cx="470.41" cy="272.84" r="0.8" fill="#4d2080"/>
<circle cx="469.74" cy="273.59" r="0.8" fill="#4d2080"/>
<circle cx="469.27" cy="275.95" r="0.8" fill="#4d2080"/>
<circle cx="473.15" cy="277.51" r="0.8" fill="#4d2080"/>
<circle cx="471.24" cy="279.82" r="0.8" fill="#4d2080"/>
<circle cx="471.53" cy="282.35" r="0.8" fill="#4d2080"/>
<circle cx="471.86" cy="284.18" r="0.8" fill="#4d2080"/>
<circle cx="469.17" cy="285.63" r="0.8" fill="#4d2080"/>
<circle cx="472.44" cy="287.03" r="0.8" fill="#4d2080"/>
<circle cx="473.26" cy="287.83" r="0.8" fill="#4d2080"/>
<circle cx="471.06" cy="289.82" r="0.8" fill="#4d2080"/>
<circle cx="471.18" cy="291.61" r="0.8" fill="#4d2080"/>
<circle cx="469.08" cy="294.18" r="0.8" fill="#4d2080"/>
<circle cx="470.82" cy="296.56" r="0.8" fill="#4d2080"/>
<circle cx="471.67" cy="297.59" r="0.8" fill="#4d2080"/>
<circle cx="470.17" cy="299.09" r="0.8" fill="#4d2080"/>
<circle cx="471.49" cy="301.39" r="0.8" fill="#4d2080"/>
<circle cx="483.14" cy="260.58" r="0.8" fill="#f0a41e"/>
<circle cx="482.57" cy="260.87" r="0.8" fill="#f0a41e"/>
<circle cx="482.50" cy="261.14" r="0.8" fill="#f0a41e"/>
<circle cx="483.33" cy="261.40" r="0.8" fill="#f0a41e"/>
<circle cx="483.63" cy="261.75" r="0.8" fill="#f0a41e"/>
<circle cx="482.16" cy="262.13" r="0.8" fill="#f0a41e"/>
<circle cx="483.96" cy="262.49" r="0.8" fill="#f0a41e"/>
<circle cx="483.88" cy="262.51" r="0.8" fill="#f0a41e"/>
<circle cx="482.94" cy="262.89" r="0.8" fill="#f0a41e"/>
<circle cx="482.28" cy="263.33" r="0.8" fill="#f0a41e"/>
<circle cx="484.28" cy="263.49" r="0.8" fill="#f0a41e"/>
<circle cx="482.90" cy="263.83" r="0.8" fill="#f0a41e"/>
<circle cx="484.10" cy="264.19" r="0.8" fill="#f0a41e"/>
<circle cx="481.61" cy="264.36" r="0.8" fill="#f0a41e"/>
<circle cx="482.83" cy="264.65" r="0.8" fill="#f0a41e"/>
<circle cx="481.22" cy="264.82" r="0.8" fill="#f0a41e"/>
<circle cx="481.40" cy="265.20" r="0.8" fill="#f0a41e"/>
<circle cx="483.75" cy="265.46" r="0.8" fill="#f0a41e"/>
<circle cx="481.88" cy="265.74" r="0.8" fill="#f0a41e"/>
<circle cx="482.60" cy="266.06" r="0.8" fill="#f0a41e"/>
<circle cx="483.16" cy="266.40" r="0.8" fill="#f0a41e"/>
<circle cx="485.48" cy="266.75" r="0.8" fill="#f0a41e"/>
<circle cx="481.52" cy="266.96" r="0.8" fill="#f0a41e"/>
<circle cx="485.25" cy="267.07" r="0.8" fill="#f0a41e"/>
<circle cx="483.76" cy="267.54" r="0.8" fill="#f0a41e"/>
<circle cx="481.58" cy="267.70" r="0.8" fill="#f0a41e"/>
<circle cx="483.42" cy="268.08" r="0.8" fill="#f0a41e"/>
<circle cx="483.90" cy="268.34" r="0.8" fill="#f0a41e"/>
<circle cx="480.83" cy="268.67" r="0.8" fill="#f0a41e"/>
<circle cx="486.40" cy="268.81" r="0.8" fill="#f0a41e"/>
<circle cx="485.83" cy="269.28" r="0.8" fill="#f0a41e"/>
<circle cx="479.71" cy="269.32" r="0.8" fill="#f0a41e"/>
<circle cx="482.42" cy="269.67" r="0.8" fill="#f0a41e"/>
<circle cx="479.79" cy="270.05" r="0.8" fill="#f0a41e"/>
<circle cx="479.46" cy="270.31" r="0.8" fill="#f0a41e"/>
<circle cx="484.48" cy="270.47" r="0.8" fill="#f0a41e"/>
<circle cx="484.14" cy="270.88" r="0.8" fill="#f0a41e"/>
<circle cx="482.81" cy="271.12" r="0.8" fill="#f0a41e"/>
<circle cx="481.58" cy="271.36" r="0.8" fill="#f0a41e"/>
<circle cx="486.11" cy="271.79" r="0.8" fill="#f0a41e"/>
<circle cx="479.50" cy="271.88" r="0.8" fill="#f0a41e"/>
<circle cx="484.14" cy="272.38" r="0.8" fill="#f0a41e"/>
<circle cx="480.36" cy="272.65" r="0.8" fill="#f0a41e"/>
<circle cx="480.77" cy="272.84" r="0.8" fill="#f0a41e"/>
<circle cx="482.37" cy="275.06" r="0.8" fill="#f0a41e"/>
<circle cx="485.35" cy="276.69" r="0.8" fill="#f0a41e"/>
<circle cx="483.23" cy="277.98" r="0.8" fill="#f0a41e"/>
<circle cx="485.02" cy="280.72" r="0.8" fill="#f0a41e"/>
<circle cx="482.37" cy="282.04" r="0.8" fill="#f0a41e"/>
<circle cx="484.80" cy="283.33" r="0.8" fill="#f0a41e"/>
<circle cx="481.00" cy="285.22" r="0.8" fill="#f0a41e"/>
<circle cx="482.93" cy="288.09" r="0.8" fill="#f0a41e"/>
<circle cx="482.03" cy="290.25" r="0.8" fill="#f0a41e"/>
<circle cx="480.97" cy="292.35" r="0.8" fill="#f0a41e"/>
<circle cx="483.78" cy="293.20" r="0.8" fill="#f0a41e"/>
<circle cx="482.06" cy="294.87" r="0.8" fill="#f0a41e"/>
<circle cx="483.93" cy="298.04" r="0.8" fill="#f0a41e"/>
<circle cx="481.29" cy="299.12" r="0.8" fill="#f0a41e"/>
<circle cx="494.96" cy="258.98" r="0.8" fill="#c4c4c4"/>
<circle cx="494.43" cy="259.20" r="0.8" fill="#c4c4c4"/>
<circle cx="494.89" cy="259.49" r="0.8" fill="#c4c4c4"/>
<circle cx="495.53" cy="259.75" r="0.8" fill="#c4c4c4"/>
<circle cx="494.68" cy="259.97" r="0.8" fill="#c4c4c4"/>
<circle cx="494.38" cy="260.17" r="0.8" fill="#c4c4c4"/>
<circle cx="494.57" cy="260.28" r="0.8" fill="#c4c4c4"/>
<circle cx="495.89" cy="260.63" r="0.8" fill="#c4c4c4"/>
<circle cx="494.41" cy="260.70" r="0.8" fill="#c4c4c4"/>
<circle cx="494.37" cy="260.94" r="0.8" fill="#c4c4c4"/>
<circle cx="494.42" cy="261.17" r="0.8" fill="#c4c4c4"/>
<circle cx="495.03" cy="261.34" r="0.8" fill="#c4c4c4"/>
<circle cx="494.97" cy="261.69" r="0.8" fill="#c4c4c4"/>
<circle cx="495.07" cy="261.92" r="0.8" fill="#c4c4c4"/>
<circle cx="495.95" cy="261.99" r="0.8" fill="#c4c4c4"/>
<circle cx="493.73" cy="262.36" r="0.8" fill="#c4c4c4"/>
<circle cx="494.88" cy="262.40" r="0.8" fill="#c4c4c4"/>
<circle cx="495.16" cy="262.73" r="0.8" fill="#c4c4c4"/>
<circle cx="495.67" cy="263.04" r="0.8" fill="#c4c4c4"/>
<circle cx="492.20" cy="263.22" r="0.8" fill="#c4c4c4"/>
<circle cx="496.58" cy="263.38" r="0.8" fill="#c4c4c4"/>
<circle cx="492.16" cy="263.50" r="0.8" fill="#c4c4c4"/>
<circle cx="497.50" cy="263.86" r="0.8" fill="#c4c4c4"/>
<circle cx="495.72" cy="263.94" r="0.8" fill="#c4c4c4"/>
<circle cx="496.56" cy="264.17" r="0.8" fill="#c4c4c4"/>
<circle cx="492.88" cy="264.50" r="0.8" fill="#c4c4c4"/>
<circle cx="496.85" cy="264.62" r="0.8" fill="#c4c4c4"/>
<circle cx="496.93" cy="264.90" r="0.8" fill="#c4c4c4"/>
<circle cx="493.45" cy="265.10" r="0.8" fill="#c4c4c4"/>
<circle cx="496.30" cy="265.44" r="0.8" fill="#c4c4c4"/>
<circle cx="495.13" cy="265.55" r="0.8" fill="#c4c4c4"/>
<circle cx="496.63" cy="265.82" r="0.8" fill="#c4c4c4"/>
<circle cx="494.01" cy="266.08" r="0.8" fill="#c4c4c4"/>
<circle cx="496.27" cy="266.28" r="0.8" fill="#c4c4c4"/>
<circle cx="497.49" cy="266.50" r="0.8" fill="#c4c4c4"/>
<circle cx="498.22" cy="266.72" r="0.8" fill="#c4c4c4"/>
<circle cx="496.03" cy="266.96" r="0.8" fill="#c4c4c4"/>
<circle cx="496.65" cy="267.09" r="0.8" fill="#c4c4c4"/>
<circle cx="494.11" cy="267.37" r="0.8" fill="#c4c4c4"/>
<circle cx="491.69" cy="267.50" r="0.8" fill="#c4c4c4"/>
<circle cx="499.12" cy="267.79" r="0.8" fill="#c4c4c4"/>
<circle cx="491.88" cy="267.93" r="0.8" fill="#c4c4c4"/>
<circle cx="494.14" cy="268.11" r="0.8" fill="#c4c4c4"/>
<circle cx="498.93" cy="268.35" r="0.8" fill="#c4c4c4"/>
<circle cx="494.03" cy="269.15" r="0.8" fill="#c4c4c4"/>
<circle cx="495.39" cy="271.73" r="0.8" fill="#c4c4c4"/>
<circle cx="493.52" cy="275.80" r="0.8" fill="#c4c4c4"/>
<circle cx="494.64" cy="276.50" r="0.8" fill="#c4c4c4"/>
<circle cx="496.44" cy="280.23" r="0.8" fill="#c4c4c4"/>
<circle cx="493.23" cy="281.34" r="0.8" fill="#c4c4c4"/>
<circle cx="493.67" cy="284.15" r="0.8" fill="#c4c4c4"/>
<circle cx="495.67" cy="286.73" r="0.8" fill="#c4c4c4"/>
<circle cx="493.70" cy="290.06" r="0.8" fill="#c4c4c4"/>
<circle cx="493.92" cy="291.50" r="0.8" fill="#c4c4c4"/>
<circle cx="508.15" cy="263.85" r="0.8" fill="#d68a2a"/>
<circle cx="506.89" cy="264.83" r="0.8" fill="#d68a2a"/>
<circle cx="506.48" cy="266.14" r="0.8" fill="#d68a2a"/>
<circle cx="508.92" cy="266.52" r="0.8" fill="#d68a2a"/>
<circle cx="505.65" cy="267.95" r="0.8" fill="#d68a2a"/>
<circle cx="509.34" cy="268.50" r="0.8" fill="#d68a2a"/>
<circle cx="504.93" cy="269.31" r="0.8" fill="#d68a2a"/>
<circle cx="509.29" cy="269.80" r="0.8" fill="#d68a2a"/>
<circle cx="505.91" cy="271.31" r="0.8" fill="#d68a2a"/>
<circle cx="506.69" cy="271.94" r="0.8" fill="#d68a2a"/>
<circle cx="509.54" cy="272.59" r="0.8" fill="#d68a2a"/>
<circle cx="505.03" cy="273.78" r="0.8" fill="#d68a2a"/>
<circle cx="506.44" cy="274.09" r="0.8" fill="#d68a2a"/>
<circle cx="508.38" cy="275.27" r="0.8" fill="#d68a2a"/>
<circle cx="507.24" cy="276.43" r="0.8" fill="#d68a2a"/>
<circle cx="504.54" cy="276.81" r="0.8" fill="#d68a2a"/>
<circle cx="505.16" cy="277.82" r="0.8" fill="#d68a2a"/>
<circle cx="506.70" cy="279.16" r="0.8" fill="#d68a2a"/>
<circle cx="509.56" cy="279.82" r="0.8" fill="#d68a2a"/>
<circle cx="506.81" cy="280.37" r="0.8" fill="#d68a2a"/>
<circle cx="508.55" cy="281.09" r="0.8" fill="#d68a2a"/>
<circle cx="508.91" cy="281.58" r="0.8" fill="#d68a2a"/>
<circle cx="508.92" cy="282.65" r="0.8" fill="#d68a2a"/>
<circle cx="504.94" cy="282.79" r="0.8" fill="#d68a2a"/>
<circle cx="503.70" cy="283.74" r="0.8" fill="#d68a2a"/>
<circle cx="506.37" cy="284.18" r="0.8" fill="#d68a2a"/>
<circle cx="507.22" cy="285.03" r="0.8" fill="#d68a2a"/>
<circle cx="505.19" cy="285.56" r="0.8" fill="#d68a2a"/>
<circle cx="506.00" cy="286.10" r="0.8" fill="#d68a2a"/>
<circle cx="503.65" cy="286.75" r="0.8" fill="#d68a2a"/>
<circle cx="504.50" cy="287.28" r="0.8" fill="#d68a2a"/>
<circle cx="506.78" cy="287.70" r="0.8" fill="#d68a2a"/>
<circle cx="508.99" cy="288.05" r="0.8" fill="#d68a2a"/>
<circle cx="505.24" cy="288.72" r="0.8" fill="#d68a2a"/>
<circle cx="505.20" cy="289.16" r="0.8" fill="#d68a2a"/>
<circle cx="508.15" cy="289.97" r="0.8" fill="#d68a2a"/>
<circle cx="507.95" cy="290.49" r="0.8" fill="#d68a2a"/>
<circle cx="505.84" cy="290.92" r="0.8" fill="#d68a2a"/>
<circle cx="509.96" cy="291.71" r="0.8" fill="#d68a2a"/>
<circle cx="507.71" cy="292.50" r="0.8" fill="#d68a2a"/>
<circle cx="505.72" cy="292.61" r="0.8" fill="#d68a2a"/>
<circle cx="504.71" cy="293.59" r="0.8" fill="#d68a2a"/>
<circle cx="506.30" cy="294.09" r="0.8" fill="#d68a2a"/>
<circle cx="510.14" cy="294.35" r="0.8" fill="#d68a2a"/>
<circle cx="504.49" cy="295.38" r="0.8" fill="#d68a2a"/>
<circle cx="505.09" cy="295.86" r="0.8" fill="#d68a2a"/>
<circle cx="506.89" cy="296.30" r="0.8" fill="#d68a2a"/>
<circle cx="505.43" cy="296.83" r="0.8" fill="#d68a2a"/>
<circle cx="507.80" cy="297.47" r="0.8" fill="#d68a2a"/>
<circle cx="504.44" cy="297.97" r="0.8" fill="#d68a2a"/>
<circle cx="505.37" cy="298.82" r="0.8" fill="#d68a2a"/>
<circle cx="507.05" cy="299.53" r="0.8" fill="#d68a2a"/>
<circle cx="505.39" cy="299.98" r="0.8" fill="#d68a2a"/>
<circle cx="503.66" cy="300.62" r="0.8" fill="#d68a2a"/>
<circle cx="503.68" cy="300.80" r="0.8" fill="#d68a2a"/>
<circle cx="508.10" cy="301.69" r="0.8" fill="#d68a2a"/>
<circle cx="505.90" cy="301.98" r="0.8" fill="#d68a2a"/>
<circle cx="507.27" cy="302.95" r="0.8" fill="#d68a2a"/>
<circle cx="504.63" cy="303.09" r="0.8" fill="#d68a2a"/>
<circle cx="503.89" cy="303.71" r="0.8" fill="#d68a2a"/>
<line x1="443.60" y1="272.30" x2="452.80" y2="272.30" stroke="#111" stroke-width="1.4" />
<line x1="455.10" y1="272.30" x2="464.30" y2="272.30" stroke="#111" stroke-width="1.4" />
<line x1="466.60" y1="271.20" x2="475.80" y2="271.20" stroke="#111" stroke-width="1.4" />
<line x1="478.40" y1="272.60" x2="487.60" y2="272.60" stroke="#111" stroke-width="1.4" />
<line x1="490.20" y1="267.20" x2="499.40" y2="267.20" stroke="#555" stroke-width="1.4" />
<line x1="502.00" y1="284.80" x2="511.20" y2="284.80" stroke="#111" stroke-width="1.4" />
<line x1="437.30" y1="231.30" x2="507.10" y2="231.30" stroke="#9a9a9a" stroke-width="1.0" />
<text x="470.40" y="232.34" font-size="7.0" text-anchor="middle" fill="#111" font-weight="normal" >**</text>
<line x1="449.20" y1="236.40" x2="507.10" y2="236.40" stroke="#9a9a9a" stroke-width="1.0" />
<text x="476.30" y="237.34" font-size="7.0" text-anchor="middle" fill="#111" font-weight="normal" >***</text>
<line x1="460.70" y1="241.80" x2="507.10" y2="241.80" stroke="#9a9a9a" stroke-width="1.0" />
<text x="483.10" y="242.94" font-size="7.0" text-anchor="middle" fill="#111" font-weight="normal" >****</text>
<line x1="472.20" y1="246.50" x2="507.10" y2="246.50" stroke="#9a9a9a" stroke-width="1.0" />
<text x="488.90" y="248.24" font-size="7.0" text-anchor="middle" fill="#111" font-weight="normal" >***</text>
<line x1="484.00" y1="251.10" x2="507.10" y2="251.10" stroke="#9a9a9a" stroke-width="1.0" />
<text x="495.00" y="252.84" font-size="7.0" text-anchor="middle" fill="#111" font-weight="normal" >*</text>
<line x1="495.80" y1="255.90" x2="507.10" y2="255.90" stroke="#9a9a9a" stroke-width="1.0" />
<text x="500.90" y="257.34" font-size="7.0" text-anchor="middle" fill="#111" font-weight="normal" >****</text>
<text transform="translate(439.30,321.50) rotate(-45)" font-size="8.1" text-anchor="end" fill="#111">CD1</text>
<text transform="translate(451.20,321.50) rotate(-45)" font-size="8.1" text-anchor="end" fill="#111">CD2</text>
<text transform="translate(462.70,321.50) rotate(-45)" font-size="8.1" text-anchor="end" fill="#111">HY</text>
<text transform="translate(474.20,321.50) rotate(-45)" font-size="8.1" text-anchor="end" fill="#111">LB</text>
<text transform="translate(486.00,321.50) rotate(-45)" font-size="8.1" text-anchor="end" fill="#111">MF</text>
<text transform="translate(497.80,321.50) rotate(-45)" font-size="8.1" text-anchor="end" fill="#111">MS</text>
<text transform="translate(509.60,321.50) rotate(-45)" font-size="8.1" text-anchor="end" fill="#111">PR</text>
<text x="403.80" y="359.00" font-size="10.5" text-anchor="start" fill="#111" font-weight="bold" >G</text>
<line x1="430.70" y1="393.20" x2="430.70" y2="458.70" stroke="#222" stroke-width="0.9" />
<line x1="427.70" y1="393.88" x2="430.70" y2="393.88" stroke="#222" stroke-width="0.9" />
<text x="425.50" y="396.38" font-size="7.5" text-anchor="end" fill="#111" font-weight="normal" >12</text>
<line x1="427.70" y1="408.26" x2="430.70" y2="408.26" stroke="#222" stroke-width="0.9" />
<text x="425.50" y="410.76" font-size="7.5" text-anchor="end" fill="#111" font-weight="normal" >10</text>
<line x1="427.70" y1="422.64" x2="430.70" y2="422.64" stroke="#222" stroke-width="0.9" />
<text x="425.50" y="425.14" font-size="7.5" text-anchor="end" fill="#111" font-weight="normal" >8</text>
<line x1="427.70" y1="437.02" x2="430.70" y2="437.02" stroke="#222" stroke-width="0.9" />
<text x="425.50" y="439.52" font-size="7.5" text-anchor="end" fill="#111" font-weight="normal" >6</text>
<line x1="427.70" y1="451.40" x2="430.70" y2="451.40" stroke="#222" stroke-width="0.9" />
<text x="425.50" y="453.90" font-size="7.5" text-anchor="end" fill="#111" font-weight="normal" >4</text>
<line x1="430.70" y1="458.30" x2="506.60" y2="458.30" stroke="#222" stroke-width="0.9" />
<line x1="452.40" y1="458.30" x2="452.40" y2="461.00" stroke="#222" stroke-width="0.9" />
<line x1="484.50" y1="458.30" x2="484.50" y2="461.00" stroke="#222" stroke-width="0.9" />
<text class="h" transform="translate(411.00,425.50) rotate(-90) scale(0.7247,1)" font-size="8.8" text-anchor="middle" fill="#111">CTBP2 expression (log<tspan font-size="5.72" dy="1.6">2</tspan><tspan dy="-1.6">)</tspan></text>
<path d="M452.10,394.24 L451.80,397.47 L451.50,401.07 L450.80,404.66 L449.40,406.82 L446.90,408.98 L444.40,411.14 L442.80,413.29 L442.40,415.45 L442.90,417.61 L444.40,419.76 L446.40,422.64 L447.80,425.52 L448.20,427.67 L447.60,429.83 L446.60,432.71 L446.40,434.86 L446.80,437.02 L447.90,439.18 L449.40,442.05 L450.40,444.93 L451.10,447.80 L451.50,451.40 L451.80,454.28 L452.10,456.43 L452.70,456.43 L453.00,454.28 L453.30,451.40 L453.70,447.80 L454.40,444.93 L455.40,442.05 L456.90,439.18 L458.00,437.02 L458.40,434.86 L458.20,432.71 L457.20,429.83 L456.60,427.67 L457.00,425.52 L458.40,422.64 L460.40,419.76 L461.90,417.61 L462.40,415.45 L462.00,413.29 L460.40,411.14 L457.90,408.98 L455.40,406.82 L454.00,404.66 L453.30,401.07 L453.00,397.47 L452.70,394.24 Z" stroke="#111" stroke-width="0.7" fill="#c8102e" stroke-linejoin="round"/>
<line x1="442.80" y1="418.33" x2="462.00" y2="418.33" stroke="#111" stroke-width="0.9" />
<line x1="445.80" y1="411.85" x2="459.00" y2="411.85" stroke="#600" stroke-width="0.6" stroke-dasharray="1,1"/>
<line x1="447.50" y1="432.71" x2="457.30" y2="432.71" stroke="#600" stroke-width="0.6" stroke-dasharray="1,1"/>
<path d="M484.20,397.47 L483.70,399.63 L483.00,402.51 L481.50,405.38 L479.00,407.54 L476.50,409.70 L474.70,411.85 L474.30,414.01 L474.50,416.17 L476.00,418.33 L478.00,420.48 L479.50,422.64 L480.50,425.52 L480.90,428.39 L481.30,431.27 L481.70,434.14 L482.10,437.02 L481.90,439.90 L481.90,442.05 L482.50,444.21 L483.30,447.09 L484.10,449.96 L484.90,449.96 L485.70,447.09 L486.50,444.21 L487.10,442.05 L487.10,439.90 L486.90,437.02 L487.30,434.14 L487.70,431.27 L488.10,428.39 L488.50,425.52 L489.50,422.64 L491.00,420.48 L493.00,418.33 L494.50,416.17 L494.70,414.01 L494.30,411.85 L492.50,409.70 L490.00,407.54 L487.50,405.38 L486.00,402.51 L485.30,399.63 L484.80,397.47 Z" stroke="#111" stroke-width="0.7" fill="#35a8e6" stroke-linejoin="round"/>
<line x1="474.60" y1="416.17" x2="494.40" y2="416.17" stroke="#111" stroke-width="0.9" />
<line x1="476.00" y1="411.50" x2="493.00" y2="411.50" stroke="#135" stroke-width="0.6" stroke-dasharray="1,1"/>
<line x1="479.50" y1="424.80" x2="489.50" y2="424.80" stroke="#135" stroke-width="0.6" stroke-dasharray="1,1"/>
<path d="M452.4,389.2 V385.2 H484.5 V389.2" stroke="#222" stroke-width="0.8" fill="none" />
<text x="468.30" y="385.24" font-size="7.0" text-anchor="middle" fill="#111" font-weight="normal" >**</text>
<text transform="translate(456.0,473.0) rotate(-45)" font-size="8.2" text-anchor="end" fill="#111">GPI50<tspan font-size="5.2" dy="-3.2">high</tspan></text>
<text transform="translate(488.4,473.2) rotate(-45)" font-size="8.2" text-anchor="end" fill="#111">GPI50<tspan font-size="5.2" dy="-3.2">low</tspan></text>
<rect x="0.5" y="0.5" width="519" height="528" fill="none" stroke="#4a4a4a" stroke-width="1"/>
</svg>
</body></html>
